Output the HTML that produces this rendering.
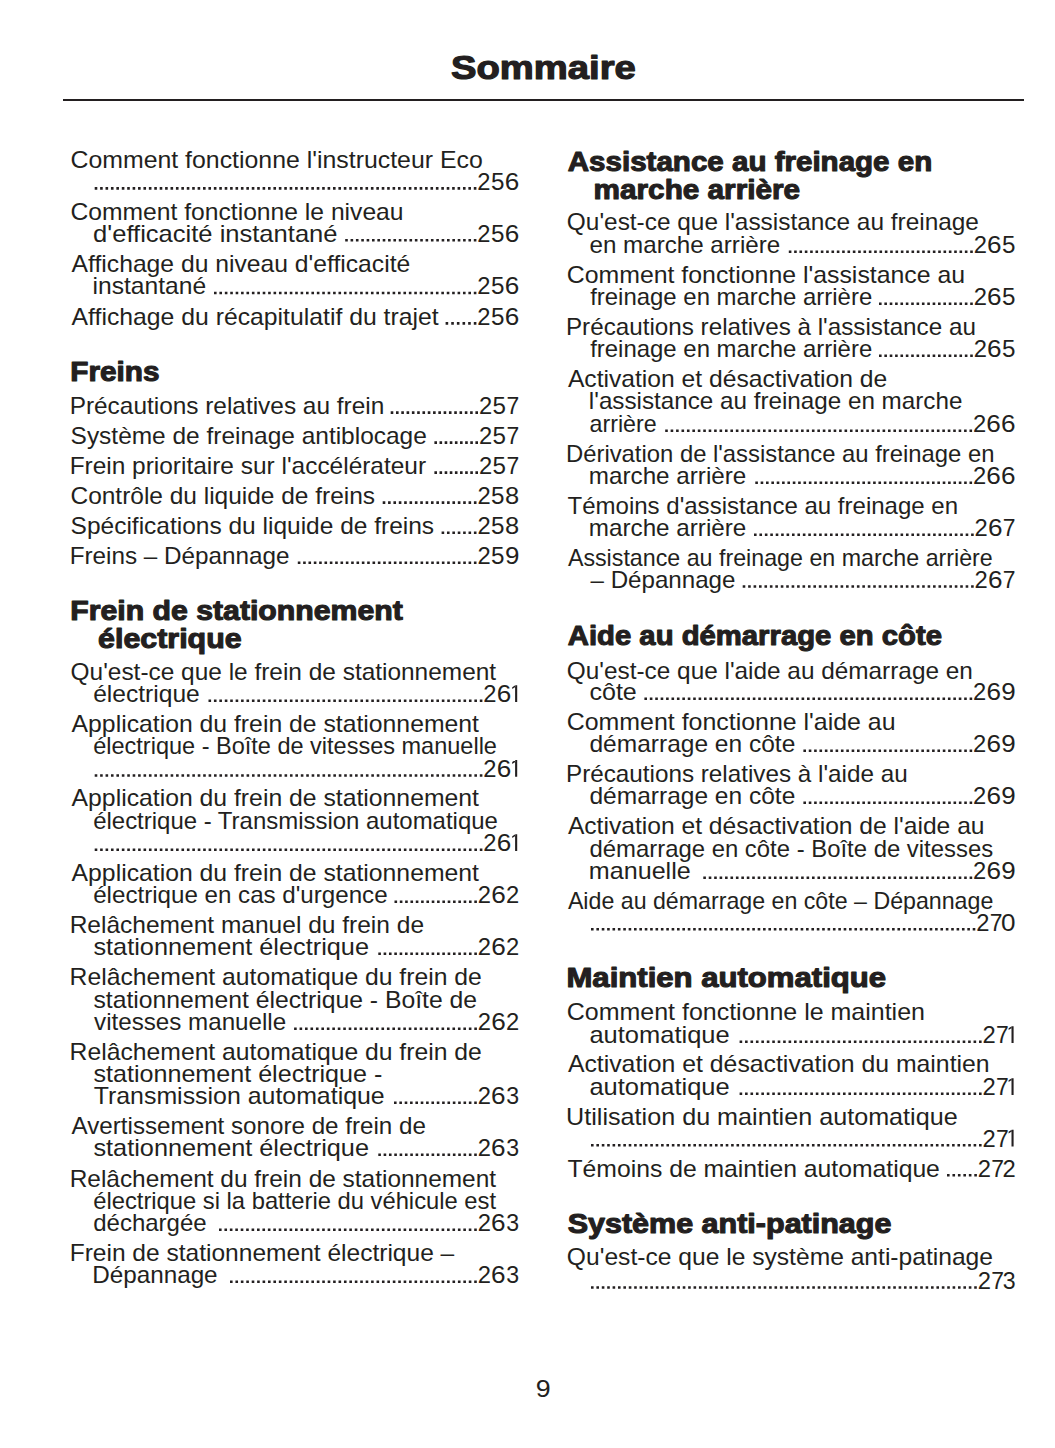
<!DOCTYPE html>
<html><head><meta charset="utf-8"><title>Sommaire</title>
<style>
html,body{margin:0;padding:0;background:#fff;}
body{width:1055px;height:1448px;overflow:hidden;position:relative;}
svg{position:absolute;left:0;top:0;display:block;}
text{font-family:"Liberation Sans",sans-serif;}
</style></head><body>
<svg width="1055" height="1448" viewBox="0 0 1055 1448" fill="#231f20">
<text x="450.99" y="79.00" font-size="34" font-weight="bold" style="stroke:#231f20;stroke-width:1.2px;stroke-linejoin:round" textLength="184.78" lengthAdjust="spacingAndGlyphs" xml:space="preserve">Sommaire</text>
<rect x="63" y="99" width="961" height="2"/>
<g class="r">
<text x="70.46" y="168.00" font-size="24.0" textLength="412.29" lengthAdjust="spacingAndGlyphs" xml:space="preserve">Comment fonctionne l'instructeur Eco</text>
<text x="504.69" y="189.70" font-size="24.0" textLength="14.55" lengthAdjust="spacingAndGlyphs" xml:space="preserve">6</text>
<text x="490.99" y="189.70" font-size="24.0" textLength="13.47" lengthAdjust="spacingAndGlyphs" xml:space="preserve">5</text>
<text x="477.31" y="189.70" font-size="24.0" textLength="13.23" lengthAdjust="spacingAndGlyphs" xml:space="preserve">2</text>
<path d="M94.70 187.10h2.6v2.6h-2.6zM100.12 187.10h2.6v2.6h-2.6zM105.53 187.10h2.6v2.6h-2.6zM110.95 187.10h2.6v2.6h-2.6zM116.36 187.10h2.6v2.6h-2.6zM121.78 187.10h2.6v2.6h-2.6zM127.19 187.10h2.6v2.6h-2.6zM132.61 187.10h2.6v2.6h-2.6zM138.03 187.10h2.6v2.6h-2.6zM143.44 187.10h2.6v2.6h-2.6zM148.86 187.10h2.6v2.6h-2.6zM154.27 187.10h2.6v2.6h-2.6zM159.69 187.10h2.6v2.6h-2.6zM165.10 187.10h2.6v2.6h-2.6zM170.52 187.10h2.6v2.6h-2.6zM175.94 187.10h2.6v2.6h-2.6zM181.35 187.10h2.6v2.6h-2.6zM186.77 187.10h2.6v2.6h-2.6zM192.18 187.10h2.6v2.6h-2.6zM197.60 187.10h2.6v2.6h-2.6zM203.01 187.10h2.6v2.6h-2.6zM208.43 187.10h2.6v2.6h-2.6zM213.85 187.10h2.6v2.6h-2.6zM219.26 187.10h2.6v2.6h-2.6zM224.68 187.10h2.6v2.6h-2.6zM230.09 187.10h2.6v2.6h-2.6zM235.51 187.10h2.6v2.6h-2.6zM240.92 187.10h2.6v2.6h-2.6zM246.34 187.10h2.6v2.6h-2.6zM251.76 187.10h2.6v2.6h-2.6zM257.17 187.10h2.6v2.6h-2.6zM262.59 187.10h2.6v2.6h-2.6zM268.00 187.10h2.6v2.6h-2.6zM273.42 187.10h2.6v2.6h-2.6zM278.83 187.10h2.6v2.6h-2.6zM284.25 187.10h2.6v2.6h-2.6zM289.67 187.10h2.6v2.6h-2.6zM295.08 187.10h2.6v2.6h-2.6zM300.50 187.10h2.6v2.6h-2.6zM305.91 187.10h2.6v2.6h-2.6zM311.33 187.10h2.6v2.6h-2.6zM316.74 187.10h2.6v2.6h-2.6zM322.16 187.10h2.6v2.6h-2.6zM327.58 187.10h2.6v2.6h-2.6zM332.99 187.10h2.6v2.6h-2.6zM338.41 187.10h2.6v2.6h-2.6zM343.82 187.10h2.6v2.6h-2.6zM349.24 187.10h2.6v2.6h-2.6zM354.65 187.10h2.6v2.6h-2.6zM360.07 187.10h2.6v2.6h-2.6zM365.49 187.10h2.6v2.6h-2.6zM370.90 187.10h2.6v2.6h-2.6zM376.32 187.10h2.6v2.6h-2.6zM381.73 187.10h2.6v2.6h-2.6zM387.15 187.10h2.6v2.6h-2.6zM392.56 187.10h2.6v2.6h-2.6zM397.98 187.10h2.6v2.6h-2.6zM403.40 187.10h2.6v2.6h-2.6zM408.81 187.10h2.6v2.6h-2.6zM414.23 187.10h2.6v2.6h-2.6zM419.64 187.10h2.6v2.6h-2.6zM425.06 187.10h2.6v2.6h-2.6zM430.47 187.10h2.6v2.6h-2.6zM435.89 187.10h2.6v2.6h-2.6zM441.31 187.10h2.6v2.6h-2.6zM446.72 187.10h2.6v2.6h-2.6zM452.14 187.10h2.6v2.6h-2.6zM457.55 187.10h2.6v2.6h-2.6zM462.97 187.10h2.6v2.6h-2.6zM468.38 187.10h2.6v2.6h-2.6zM473.80 187.10h2.6v2.6h-2.6z"/>
<text x="70.47" y="219.80" font-size="24.0" textLength="333.08" lengthAdjust="spacingAndGlyphs" xml:space="preserve">Comment fonctionne le niveau</text>
<text x="504.69" y="241.50" font-size="24.0" textLength="14.55" lengthAdjust="spacingAndGlyphs" xml:space="preserve">6</text>
<text x="490.99" y="241.50" font-size="24.0" textLength="13.47" lengthAdjust="spacingAndGlyphs" xml:space="preserve">5</text>
<text x="477.31" y="241.50" font-size="24.0" textLength="13.23" lengthAdjust="spacingAndGlyphs" xml:space="preserve">2</text>
<text x="93.14" y="241.50" font-size="24.0" textLength="244.38" lengthAdjust="spacingAndGlyphs" xml:space="preserve">d'efficacité instantané</text>
<path d="M345.20 238.90h2.6v2.6h-2.6zM350.56 238.90h2.6v2.6h-2.6zM355.92 238.90h2.6v2.6h-2.6zM361.27 238.90h2.6v2.6h-2.6zM366.63 238.90h2.6v2.6h-2.6zM371.99 238.90h2.6v2.6h-2.6zM377.35 238.90h2.6v2.6h-2.6zM382.71 238.90h2.6v2.6h-2.6zM388.07 238.90h2.6v2.6h-2.6zM393.43 238.90h2.6v2.6h-2.6zM398.78 238.90h2.6v2.6h-2.6zM404.14 238.90h2.6v2.6h-2.6zM409.50 238.90h2.6v2.6h-2.6zM414.86 238.90h2.6v2.6h-2.6zM420.22 238.90h2.6v2.6h-2.6zM425.57 238.90h2.6v2.6h-2.6zM430.93 238.90h2.6v2.6h-2.6zM436.29 238.90h2.6v2.6h-2.6zM441.65 238.90h2.6v2.6h-2.6zM447.01 238.90h2.6v2.6h-2.6zM452.37 238.90h2.6v2.6h-2.6zM457.73 238.90h2.6v2.6h-2.6zM463.08 238.90h2.6v2.6h-2.6zM468.44 238.90h2.6v2.6h-2.6zM473.80 238.90h2.6v2.6h-2.6z"/>
<text x="71.60" y="272.00" font-size="24.0" textLength="338.62" lengthAdjust="spacingAndGlyphs" xml:space="preserve">Affichage du niveau d'efficacité</text>
<text x="504.69" y="294.30" font-size="24.0" textLength="14.55" lengthAdjust="spacingAndGlyphs" xml:space="preserve">6</text>
<text x="490.99" y="294.30" font-size="24.0" textLength="13.47" lengthAdjust="spacingAndGlyphs" xml:space="preserve">5</text>
<text x="477.31" y="294.30" font-size="24.0" textLength="13.23" lengthAdjust="spacingAndGlyphs" xml:space="preserve">2</text>
<text x="92.56" y="294.30" font-size="24.0" textLength="113.53" lengthAdjust="spacingAndGlyphs" xml:space="preserve">instantané</text>
<path d="M214.00 291.70h2.6v2.6h-2.6zM219.41 291.70h2.6v2.6h-2.6zM224.83 291.70h2.6v2.6h-2.6zM230.24 291.70h2.6v2.6h-2.6zM235.65 291.70h2.6v2.6h-2.6zM241.06 291.70h2.6v2.6h-2.6zM246.48 291.70h2.6v2.6h-2.6zM251.89 291.70h2.6v2.6h-2.6zM257.30 291.70h2.6v2.6h-2.6zM262.71 291.70h2.6v2.6h-2.6zM268.13 291.70h2.6v2.6h-2.6zM273.54 291.70h2.6v2.6h-2.6zM278.95 291.70h2.6v2.6h-2.6zM284.36 291.70h2.6v2.6h-2.6zM289.78 291.70h2.6v2.6h-2.6zM295.19 291.70h2.6v2.6h-2.6zM300.60 291.70h2.6v2.6h-2.6zM306.01 291.70h2.6v2.6h-2.6zM311.43 291.70h2.6v2.6h-2.6zM316.84 291.70h2.6v2.6h-2.6zM322.25 291.70h2.6v2.6h-2.6zM327.66 291.70h2.6v2.6h-2.6zM333.08 291.70h2.6v2.6h-2.6zM338.49 291.70h2.6v2.6h-2.6zM343.90 291.70h2.6v2.6h-2.6zM349.31 291.70h2.6v2.6h-2.6zM354.73 291.70h2.6v2.6h-2.6zM360.14 291.70h2.6v2.6h-2.6zM365.55 291.70h2.6v2.6h-2.6zM370.96 291.70h2.6v2.6h-2.6zM376.38 291.70h2.6v2.6h-2.6zM381.79 291.70h2.6v2.6h-2.6zM387.20 291.70h2.6v2.6h-2.6zM392.61 291.70h2.6v2.6h-2.6zM398.03 291.70h2.6v2.6h-2.6zM403.44 291.70h2.6v2.6h-2.6zM408.85 291.70h2.6v2.6h-2.6zM414.26 291.70h2.6v2.6h-2.6zM419.68 291.70h2.6v2.6h-2.6zM425.09 291.70h2.6v2.6h-2.6zM430.50 291.70h2.6v2.6h-2.6zM435.91 291.70h2.6v2.6h-2.6zM441.33 291.70h2.6v2.6h-2.6zM446.74 291.70h2.6v2.6h-2.6zM452.15 291.70h2.6v2.6h-2.6zM457.56 291.70h2.6v2.6h-2.6zM462.98 291.70h2.6v2.6h-2.6zM468.39 291.70h2.6v2.6h-2.6zM473.80 291.70h2.6v2.6h-2.6z"/>
<text x="504.69" y="324.70" font-size="24.0" textLength="14.55" lengthAdjust="spacingAndGlyphs" xml:space="preserve">6</text>
<text x="490.99" y="324.70" font-size="24.0" textLength="13.47" lengthAdjust="spacingAndGlyphs" xml:space="preserve">5</text>
<text x="477.31" y="324.70" font-size="24.0" textLength="13.23" lengthAdjust="spacingAndGlyphs" xml:space="preserve">2</text>
<text x="71.60" y="324.70" font-size="24.0" textLength="367.02" lengthAdjust="spacingAndGlyphs" xml:space="preserve">Affichage du récapitulatif du trajet</text>
<path d="M445.60 322.10h2.6v2.6h-2.6zM451.24 322.10h2.6v2.6h-2.6zM456.88 322.10h2.6v2.6h-2.6zM462.52 322.10h2.6v2.6h-2.6zM468.16 322.10h2.6v2.6h-2.6zM473.80 322.10h2.6v2.6h-2.6z"/>
<text x="70.27" y="381.10" font-size="27.6" font-weight="bold" style="stroke:#231f20;stroke-width:1.1px;stroke-linejoin:round" textLength="89.23" lengthAdjust="spacingAndGlyphs" xml:space="preserve">Freins</text>
<text x="506.45" y="413.90" font-size="24.0" textLength="12.74" lengthAdjust="spacingAndGlyphs" xml:space="preserve">7</text>
<text x="492.59" y="413.90" font-size="24.0" textLength="13.47" lengthAdjust="spacingAndGlyphs" xml:space="preserve">5</text>
<text x="478.91" y="413.90" font-size="24.0" textLength="13.23" lengthAdjust="spacingAndGlyphs" xml:space="preserve">2</text>
<text x="69.67" y="413.90" font-size="24.0" textLength="314.57" lengthAdjust="spacingAndGlyphs" xml:space="preserve">Précautions relatives au frein</text>
<path d="M390.70 411.30h2.6v2.6h-2.6zM395.99 411.30h2.6v2.6h-2.6zM401.29 411.30h2.6v2.6h-2.6zM406.58 411.30h2.6v2.6h-2.6zM411.88 411.30h2.6v2.6h-2.6zM417.17 411.30h2.6v2.6h-2.6zM422.46 411.30h2.6v2.6h-2.6zM427.76 411.30h2.6v2.6h-2.6zM433.05 411.30h2.6v2.6h-2.6zM438.34 411.30h2.6v2.6h-2.6zM443.64 411.30h2.6v2.6h-2.6zM448.93 411.30h2.6v2.6h-2.6zM454.23 411.30h2.6v2.6h-2.6zM459.52 411.30h2.6v2.6h-2.6zM464.81 411.30h2.6v2.6h-2.6zM470.11 411.30h2.6v2.6h-2.6zM475.40 411.30h2.6v2.6h-2.6z"/>
<text x="506.45" y="443.90" font-size="24.0" textLength="12.74" lengthAdjust="spacingAndGlyphs" xml:space="preserve">7</text>
<text x="492.59" y="443.90" font-size="24.0" textLength="13.47" lengthAdjust="spacingAndGlyphs" xml:space="preserve">5</text>
<text x="478.91" y="443.90" font-size="24.0" textLength="13.23" lengthAdjust="spacingAndGlyphs" xml:space="preserve">2</text>
<text x="70.58" y="443.90" font-size="24.0" textLength="356.22" lengthAdjust="spacingAndGlyphs" xml:space="preserve">Système de freinage antiblocage</text>
<path d="M434.40 441.30h2.6v2.6h-2.6zM439.52 441.30h2.6v2.6h-2.6zM444.65 441.30h2.6v2.6h-2.6zM449.77 441.30h2.6v2.6h-2.6zM454.90 441.30h2.6v2.6h-2.6zM460.02 441.30h2.6v2.6h-2.6zM465.15 441.30h2.6v2.6h-2.6zM470.27 441.30h2.6v2.6h-2.6zM475.40 441.30h2.6v2.6h-2.6z"/>
<text x="506.45" y="473.90" font-size="24.0" textLength="12.74" lengthAdjust="spacingAndGlyphs" xml:space="preserve">7</text>
<text x="492.59" y="473.90" font-size="24.0" textLength="13.47" lengthAdjust="spacingAndGlyphs" xml:space="preserve">5</text>
<text x="478.91" y="473.90" font-size="24.0" textLength="13.23" lengthAdjust="spacingAndGlyphs" xml:space="preserve">2</text>
<text x="69.66" y="473.90" font-size="24.0" textLength="356.40" lengthAdjust="spacingAndGlyphs" xml:space="preserve">Frein prioritaire sur l'accélérateur</text>
<path d="M434.40 471.30h2.6v2.6h-2.6zM439.52 471.30h2.6v2.6h-2.6zM444.65 471.30h2.6v2.6h-2.6zM449.77 471.30h2.6v2.6h-2.6zM454.90 471.30h2.6v2.6h-2.6zM460.02 471.30h2.6v2.6h-2.6zM465.15 471.30h2.6v2.6h-2.6zM470.27 471.30h2.6v2.6h-2.6zM475.40 471.30h2.6v2.6h-2.6z"/>
<text x="505.04" y="503.90" font-size="24.0" textLength="14.18" lengthAdjust="spacingAndGlyphs" xml:space="preserve">8</text>
<text x="491.09" y="503.90" font-size="24.0" textLength="13.47" lengthAdjust="spacingAndGlyphs" xml:space="preserve">5</text>
<text x="477.41" y="503.90" font-size="24.0" textLength="13.23" lengthAdjust="spacingAndGlyphs" xml:space="preserve">2</text>
<text x="70.48" y="503.90" font-size="24.0" textLength="304.61" lengthAdjust="spacingAndGlyphs" xml:space="preserve">Contrôle du liquide de freins</text>
<path d="M382.70 501.30h2.6v2.6h-2.6zM388.06 501.30h2.6v2.6h-2.6zM393.43 501.30h2.6v2.6h-2.6zM398.79 501.30h2.6v2.6h-2.6zM404.16 501.30h2.6v2.6h-2.6zM409.52 501.30h2.6v2.6h-2.6zM414.89 501.30h2.6v2.6h-2.6zM420.25 501.30h2.6v2.6h-2.6zM425.62 501.30h2.6v2.6h-2.6zM430.98 501.30h2.6v2.6h-2.6zM436.35 501.30h2.6v2.6h-2.6zM441.71 501.30h2.6v2.6h-2.6zM447.08 501.30h2.6v2.6h-2.6zM452.44 501.30h2.6v2.6h-2.6zM457.81 501.30h2.6v2.6h-2.6zM463.17 501.30h2.6v2.6h-2.6zM468.54 501.30h2.6v2.6h-2.6zM473.90 501.30h2.6v2.6h-2.6z"/>
<text x="505.04" y="534.00" font-size="24.0" textLength="14.18" lengthAdjust="spacingAndGlyphs" xml:space="preserve">8</text>
<text x="491.09" y="534.00" font-size="24.0" textLength="13.47" lengthAdjust="spacingAndGlyphs" xml:space="preserve">5</text>
<text x="477.41" y="534.00" font-size="24.0" textLength="13.23" lengthAdjust="spacingAndGlyphs" xml:space="preserve">2</text>
<text x="70.58" y="534.00" font-size="24.0" textLength="363.48" lengthAdjust="spacingAndGlyphs" xml:space="preserve">Spécifications du liquide de freins</text>
<path d="M441.60 531.40h2.6v2.6h-2.6zM446.98 531.40h2.6v2.6h-2.6zM452.37 531.40h2.6v2.6h-2.6zM457.75 531.40h2.6v2.6h-2.6zM463.13 531.40h2.6v2.6h-2.6zM468.52 531.40h2.6v2.6h-2.6zM473.90 531.40h2.6v2.6h-2.6z"/>
<text x="504.91" y="564.00" font-size="24.0" textLength="14.43" lengthAdjust="spacingAndGlyphs" xml:space="preserve">9</text>
<text x="491.09" y="564.00" font-size="24.0" textLength="13.47" lengthAdjust="spacingAndGlyphs" xml:space="preserve">5</text>
<text x="477.41" y="564.00" font-size="24.0" textLength="13.23" lengthAdjust="spacingAndGlyphs" xml:space="preserve">2</text>
<text x="69.68" y="564.00" font-size="24.0" textLength="219.92" lengthAdjust="spacingAndGlyphs" xml:space="preserve">Freins – Dépannage</text>
<path d="M297.80 561.40h2.6v2.6h-2.6zM303.14 561.40h2.6v2.6h-2.6zM308.47 561.40h2.6v2.6h-2.6zM313.81 561.40h2.6v2.6h-2.6zM319.15 561.40h2.6v2.6h-2.6zM324.48 561.40h2.6v2.6h-2.6zM329.82 561.40h2.6v2.6h-2.6zM335.15 561.40h2.6v2.6h-2.6zM340.49 561.40h2.6v2.6h-2.6zM345.83 561.40h2.6v2.6h-2.6zM351.16 561.40h2.6v2.6h-2.6zM356.50 561.40h2.6v2.6h-2.6zM361.84 561.40h2.6v2.6h-2.6zM367.17 561.40h2.6v2.6h-2.6zM372.51 561.40h2.6v2.6h-2.6zM377.85 561.40h2.6v2.6h-2.6zM383.18 561.40h2.6v2.6h-2.6zM388.52 561.40h2.6v2.6h-2.6zM393.85 561.40h2.6v2.6h-2.6zM399.19 561.40h2.6v2.6h-2.6zM404.53 561.40h2.6v2.6h-2.6zM409.86 561.40h2.6v2.6h-2.6zM415.20 561.40h2.6v2.6h-2.6zM420.54 561.40h2.6v2.6h-2.6zM425.87 561.40h2.6v2.6h-2.6zM431.21 561.40h2.6v2.6h-2.6zM436.55 561.40h2.6v2.6h-2.6zM441.88 561.40h2.6v2.6h-2.6zM447.22 561.40h2.6v2.6h-2.6zM452.55 561.40h2.6v2.6h-2.6zM457.89 561.40h2.6v2.6h-2.6zM463.23 561.40h2.6v2.6h-2.6zM468.56 561.40h2.6v2.6h-2.6zM473.90 561.40h2.6v2.6h-2.6z"/>
<text x="70.24" y="620.10" font-size="27.6" font-weight="bold" style="stroke:#231f20;stroke-width:1.1px;stroke-linejoin:round" textLength="332.53" lengthAdjust="spacingAndGlyphs" xml:space="preserve">Frein de stationnement</text>
<text x="98.11" y="647.60" font-size="27.6" font-weight="bold" style="stroke:#231f20;stroke-width:1.1px;stroke-linejoin:round" textLength="143.46" lengthAdjust="spacingAndGlyphs" xml:space="preserve">électrique</text>
<text x="70.58" y="679.70" font-size="24.0" textLength="425.51" lengthAdjust="spacingAndGlyphs" xml:space="preserve">Qu'est-ce que le frein de stationnement</text>
<path d="M515.10 685.20h2.1v16.8h-2.1z M515.30 685.20L512.20 687.20L512.20 689.10L515.30 687.10z"/>
<text x="496.69" y="702.00" font-size="24.0" textLength="14.55" lengthAdjust="spacingAndGlyphs" xml:space="preserve">6</text>
<text x="483.31" y="702.00" font-size="24.0" textLength="13.23" lengthAdjust="spacingAndGlyphs" xml:space="preserve">2</text>
<text x="93.18" y="702.00" font-size="24.0" textLength="106.62" lengthAdjust="spacingAndGlyphs" xml:space="preserve">électrique</text>
<path d="M208.50 699.40h2.6v2.6h-2.6zM213.93 699.40h2.6v2.6h-2.6zM219.35 699.40h2.6v2.6h-2.6zM224.78 699.40h2.6v2.6h-2.6zM230.20 699.40h2.6v2.6h-2.6zM235.63 699.40h2.6v2.6h-2.6zM241.06 699.40h2.6v2.6h-2.6zM246.48 699.40h2.6v2.6h-2.6zM251.91 699.40h2.6v2.6h-2.6zM257.33 699.40h2.6v2.6h-2.6zM262.76 699.40h2.6v2.6h-2.6zM268.19 699.40h2.6v2.6h-2.6zM273.61 699.40h2.6v2.6h-2.6zM279.04 699.40h2.6v2.6h-2.6zM284.46 699.40h2.6v2.6h-2.6zM289.89 699.40h2.6v2.6h-2.6zM295.32 699.40h2.6v2.6h-2.6zM300.74 699.40h2.6v2.6h-2.6zM306.17 699.40h2.6v2.6h-2.6zM311.59 699.40h2.6v2.6h-2.6zM317.02 699.40h2.6v2.6h-2.6zM322.45 699.40h2.6v2.6h-2.6zM327.87 699.40h2.6v2.6h-2.6zM333.30 699.40h2.6v2.6h-2.6zM338.72 699.40h2.6v2.6h-2.6zM344.15 699.40h2.6v2.6h-2.6zM349.58 699.40h2.6v2.6h-2.6zM355.00 699.40h2.6v2.6h-2.6zM360.43 699.40h2.6v2.6h-2.6zM365.85 699.40h2.6v2.6h-2.6zM371.28 699.40h2.6v2.6h-2.6zM376.71 699.40h2.6v2.6h-2.6zM382.13 699.40h2.6v2.6h-2.6zM387.56 699.40h2.6v2.6h-2.6zM392.98 699.40h2.6v2.6h-2.6zM398.41 699.40h2.6v2.6h-2.6zM403.84 699.40h2.6v2.6h-2.6zM409.26 699.40h2.6v2.6h-2.6zM414.69 699.40h2.6v2.6h-2.6zM420.11 699.40h2.6v2.6h-2.6zM425.54 699.40h2.6v2.6h-2.6zM430.97 699.40h2.6v2.6h-2.6zM436.39 699.40h2.6v2.6h-2.6zM441.82 699.40h2.6v2.6h-2.6zM447.24 699.40h2.6v2.6h-2.6zM452.67 699.40h2.6v2.6h-2.6zM458.10 699.40h2.6v2.6h-2.6zM463.52 699.40h2.6v2.6h-2.6zM468.95 699.40h2.6v2.6h-2.6zM474.37 699.40h2.6v2.6h-2.6zM479.80 699.40h2.6v2.6h-2.6z"/>
<text x="71.60" y="731.50" font-size="24.0" textLength="407.35" lengthAdjust="spacingAndGlyphs" xml:space="preserve">Application du frein de stationnement</text>
<text x="93.22" y="754.00" font-size="24.0" textLength="403.70" lengthAdjust="spacingAndGlyphs" xml:space="preserve">électrique - Boîte de vitesses manuelle</text>
<path d="M515.10 760.00h2.1v16.8h-2.1z M515.30 760.00L512.20 762.00L512.20 763.90L515.30 761.90z"/>
<text x="496.69" y="776.80" font-size="24.0" textLength="14.55" lengthAdjust="spacingAndGlyphs" xml:space="preserve">6</text>
<text x="483.31" y="776.80" font-size="24.0" textLength="13.23" lengthAdjust="spacingAndGlyphs" xml:space="preserve">2</text>
<path d="M94.70 774.20h2.6v2.6h-2.6zM100.12 774.20h2.6v2.6h-2.6zM105.55 774.20h2.6v2.6h-2.6zM110.97 774.20h2.6v2.6h-2.6zM116.40 774.20h2.6v2.6h-2.6zM121.82 774.20h2.6v2.6h-2.6zM127.24 774.20h2.6v2.6h-2.6zM132.67 774.20h2.6v2.6h-2.6zM138.09 774.20h2.6v2.6h-2.6zM143.52 774.20h2.6v2.6h-2.6zM148.94 774.20h2.6v2.6h-2.6zM154.36 774.20h2.6v2.6h-2.6zM159.79 774.20h2.6v2.6h-2.6zM165.21 774.20h2.6v2.6h-2.6zM170.64 774.20h2.6v2.6h-2.6zM176.06 774.20h2.6v2.6h-2.6zM181.48 774.20h2.6v2.6h-2.6zM186.91 774.20h2.6v2.6h-2.6zM192.33 774.20h2.6v2.6h-2.6zM197.75 774.20h2.6v2.6h-2.6zM203.18 774.20h2.6v2.6h-2.6zM208.60 774.20h2.6v2.6h-2.6zM214.03 774.20h2.6v2.6h-2.6zM219.45 774.20h2.6v2.6h-2.6zM224.87 774.20h2.6v2.6h-2.6zM230.30 774.20h2.6v2.6h-2.6zM235.72 774.20h2.6v2.6h-2.6zM241.15 774.20h2.6v2.6h-2.6zM246.57 774.20h2.6v2.6h-2.6zM251.99 774.20h2.6v2.6h-2.6zM257.42 774.20h2.6v2.6h-2.6zM262.84 774.20h2.6v2.6h-2.6zM268.27 774.20h2.6v2.6h-2.6zM273.69 774.20h2.6v2.6h-2.6zM279.11 774.20h2.6v2.6h-2.6zM284.54 774.20h2.6v2.6h-2.6zM289.96 774.20h2.6v2.6h-2.6zM295.39 774.20h2.6v2.6h-2.6zM300.81 774.20h2.6v2.6h-2.6zM306.23 774.20h2.6v2.6h-2.6zM311.66 774.20h2.6v2.6h-2.6zM317.08 774.20h2.6v2.6h-2.6zM322.51 774.20h2.6v2.6h-2.6zM327.93 774.20h2.6v2.6h-2.6zM333.35 774.20h2.6v2.6h-2.6zM338.78 774.20h2.6v2.6h-2.6zM344.20 774.20h2.6v2.6h-2.6zM349.63 774.20h2.6v2.6h-2.6zM355.05 774.20h2.6v2.6h-2.6zM360.47 774.20h2.6v2.6h-2.6zM365.90 774.20h2.6v2.6h-2.6zM371.32 774.20h2.6v2.6h-2.6zM376.75 774.20h2.6v2.6h-2.6zM382.17 774.20h2.6v2.6h-2.6zM387.59 774.20h2.6v2.6h-2.6zM393.02 774.20h2.6v2.6h-2.6zM398.44 774.20h2.6v2.6h-2.6zM403.86 774.20h2.6v2.6h-2.6zM409.29 774.20h2.6v2.6h-2.6zM414.71 774.20h2.6v2.6h-2.6zM420.14 774.20h2.6v2.6h-2.6zM425.56 774.20h2.6v2.6h-2.6zM430.98 774.20h2.6v2.6h-2.6zM436.41 774.20h2.6v2.6h-2.6zM441.83 774.20h2.6v2.6h-2.6zM447.26 774.20h2.6v2.6h-2.6zM452.68 774.20h2.6v2.6h-2.6zM458.10 774.20h2.6v2.6h-2.6zM463.53 774.20h2.6v2.6h-2.6zM468.95 774.20h2.6v2.6h-2.6zM474.38 774.20h2.6v2.6h-2.6zM479.80 774.20h2.6v2.6h-2.6z"/>
<text x="71.60" y="806.00" font-size="24.0" textLength="407.35" lengthAdjust="spacingAndGlyphs" xml:space="preserve">Application du frein de stationnement</text>
<text x="93.20" y="829.00" font-size="24.0" textLength="404.65" lengthAdjust="spacingAndGlyphs" xml:space="preserve">électrique - Transmission automatique</text>
<path d="M515.10 834.20h2.1v16.8h-2.1z M515.30 834.20L512.20 836.20L512.20 838.10L515.30 836.10z"/>
<text x="496.69" y="851.00" font-size="24.0" textLength="14.55" lengthAdjust="spacingAndGlyphs" xml:space="preserve">6</text>
<text x="483.31" y="851.00" font-size="24.0" textLength="13.23" lengthAdjust="spacingAndGlyphs" xml:space="preserve">2</text>
<path d="M94.70 848.40h2.6v2.6h-2.6zM100.12 848.40h2.6v2.6h-2.6zM105.55 848.40h2.6v2.6h-2.6zM110.97 848.40h2.6v2.6h-2.6zM116.40 848.40h2.6v2.6h-2.6zM121.82 848.40h2.6v2.6h-2.6zM127.24 848.40h2.6v2.6h-2.6zM132.67 848.40h2.6v2.6h-2.6zM138.09 848.40h2.6v2.6h-2.6zM143.52 848.40h2.6v2.6h-2.6zM148.94 848.40h2.6v2.6h-2.6zM154.36 848.40h2.6v2.6h-2.6zM159.79 848.40h2.6v2.6h-2.6zM165.21 848.40h2.6v2.6h-2.6zM170.64 848.40h2.6v2.6h-2.6zM176.06 848.40h2.6v2.6h-2.6zM181.48 848.40h2.6v2.6h-2.6zM186.91 848.40h2.6v2.6h-2.6zM192.33 848.40h2.6v2.6h-2.6zM197.75 848.40h2.6v2.6h-2.6zM203.18 848.40h2.6v2.6h-2.6zM208.60 848.40h2.6v2.6h-2.6zM214.03 848.40h2.6v2.6h-2.6zM219.45 848.40h2.6v2.6h-2.6zM224.87 848.40h2.6v2.6h-2.6zM230.30 848.40h2.6v2.6h-2.6zM235.72 848.40h2.6v2.6h-2.6zM241.15 848.40h2.6v2.6h-2.6zM246.57 848.40h2.6v2.6h-2.6zM251.99 848.40h2.6v2.6h-2.6zM257.42 848.40h2.6v2.6h-2.6zM262.84 848.40h2.6v2.6h-2.6zM268.27 848.40h2.6v2.6h-2.6zM273.69 848.40h2.6v2.6h-2.6zM279.11 848.40h2.6v2.6h-2.6zM284.54 848.40h2.6v2.6h-2.6zM289.96 848.40h2.6v2.6h-2.6zM295.39 848.40h2.6v2.6h-2.6zM300.81 848.40h2.6v2.6h-2.6zM306.23 848.40h2.6v2.6h-2.6zM311.66 848.40h2.6v2.6h-2.6zM317.08 848.40h2.6v2.6h-2.6zM322.51 848.40h2.6v2.6h-2.6zM327.93 848.40h2.6v2.6h-2.6zM333.35 848.40h2.6v2.6h-2.6zM338.78 848.40h2.6v2.6h-2.6zM344.20 848.40h2.6v2.6h-2.6zM349.63 848.40h2.6v2.6h-2.6zM355.05 848.40h2.6v2.6h-2.6zM360.47 848.40h2.6v2.6h-2.6zM365.90 848.40h2.6v2.6h-2.6zM371.32 848.40h2.6v2.6h-2.6zM376.75 848.40h2.6v2.6h-2.6zM382.17 848.40h2.6v2.6h-2.6zM387.59 848.40h2.6v2.6h-2.6zM393.02 848.40h2.6v2.6h-2.6zM398.44 848.40h2.6v2.6h-2.6zM403.86 848.40h2.6v2.6h-2.6zM409.29 848.40h2.6v2.6h-2.6zM414.71 848.40h2.6v2.6h-2.6zM420.14 848.40h2.6v2.6h-2.6zM425.56 848.40h2.6v2.6h-2.6zM430.98 848.40h2.6v2.6h-2.6zM436.41 848.40h2.6v2.6h-2.6zM441.83 848.40h2.6v2.6h-2.6zM447.26 848.40h2.6v2.6h-2.6zM452.68 848.40h2.6v2.6h-2.6zM458.10 848.40h2.6v2.6h-2.6zM463.53 848.40h2.6v2.6h-2.6zM468.95 848.40h2.6v2.6h-2.6zM474.38 848.40h2.6v2.6h-2.6zM479.80 848.40h2.6v2.6h-2.6z"/>
<text x="71.60" y="881.00" font-size="24.0" textLength="407.35" lengthAdjust="spacingAndGlyphs" xml:space="preserve">Application du frein de stationnement</text>
<text x="506.01" y="903.00" font-size="24.0" textLength="13.23" lengthAdjust="spacingAndGlyphs" xml:space="preserve">2</text>
<text x="491.19" y="903.00" font-size="24.0" textLength="14.55" lengthAdjust="spacingAndGlyphs" xml:space="preserve">6</text>
<text x="477.81" y="903.00" font-size="24.0" textLength="13.23" lengthAdjust="spacingAndGlyphs" xml:space="preserve">2</text>
<text x="93.19" y="903.00" font-size="24.0" textLength="294.40" lengthAdjust="spacingAndGlyphs" xml:space="preserve">électrique en cas d'urgence</text>
<path d="M394.50 900.40h2.6v2.6h-2.6zM399.82 900.40h2.6v2.6h-2.6zM405.14 900.40h2.6v2.6h-2.6zM410.46 900.40h2.6v2.6h-2.6zM415.78 900.40h2.6v2.6h-2.6zM421.10 900.40h2.6v2.6h-2.6zM426.42 900.40h2.6v2.6h-2.6zM431.74 900.40h2.6v2.6h-2.6zM437.06 900.40h2.6v2.6h-2.6zM442.38 900.40h2.6v2.6h-2.6zM447.70 900.40h2.6v2.6h-2.6zM453.02 900.40h2.6v2.6h-2.6zM458.34 900.40h2.6v2.6h-2.6zM463.66 900.40h2.6v2.6h-2.6zM468.98 900.40h2.6v2.6h-2.6zM474.30 900.40h2.6v2.6h-2.6z"/>
<text x="69.66" y="933.00" font-size="24.0" textLength="354.36" lengthAdjust="spacingAndGlyphs" xml:space="preserve">Relâchement manuel du frein de</text>
<text x="506.01" y="955.00" font-size="24.0" textLength="13.23" lengthAdjust="spacingAndGlyphs" xml:space="preserve">2</text>
<text x="491.19" y="955.00" font-size="24.0" textLength="14.55" lengthAdjust="spacingAndGlyphs" xml:space="preserve">6</text>
<text x="477.81" y="955.00" font-size="24.0" textLength="13.23" lengthAdjust="spacingAndGlyphs" xml:space="preserve">2</text>
<text x="93.46" y="955.00" font-size="24.0" textLength="275.50" lengthAdjust="spacingAndGlyphs" xml:space="preserve">stationnement électrique</text>
<path d="M378.30 952.40h2.6v2.6h-2.6zM383.63 952.40h2.6v2.6h-2.6zM388.97 952.40h2.6v2.6h-2.6zM394.30 952.40h2.6v2.6h-2.6zM399.63 952.40h2.6v2.6h-2.6zM404.97 952.40h2.6v2.6h-2.6zM410.30 952.40h2.6v2.6h-2.6zM415.63 952.40h2.6v2.6h-2.6zM420.97 952.40h2.6v2.6h-2.6zM426.30 952.40h2.6v2.6h-2.6zM431.63 952.40h2.6v2.6h-2.6zM436.97 952.40h2.6v2.6h-2.6zM442.30 952.40h2.6v2.6h-2.6zM447.63 952.40h2.6v2.6h-2.6zM452.97 952.40h2.6v2.6h-2.6zM458.30 952.40h2.6v2.6h-2.6zM463.63 952.40h2.6v2.6h-2.6zM468.97 952.40h2.6v2.6h-2.6zM474.30 952.40h2.6v2.6h-2.6z"/>
<text x="69.64" y="985.00" font-size="24.0" textLength="412.17" lengthAdjust="spacingAndGlyphs" xml:space="preserve">Relâchement automatique du frein de</text>
<text x="93.48" y="1008.00" font-size="24.0" textLength="383.60" lengthAdjust="spacingAndGlyphs" xml:space="preserve">stationnement électrique - Boîte de</text>
<text x="506.01" y="1030.00" font-size="24.0" textLength="13.23" lengthAdjust="spacingAndGlyphs" xml:space="preserve">2</text>
<text x="491.19" y="1030.00" font-size="24.0" textLength="14.55" lengthAdjust="spacingAndGlyphs" xml:space="preserve">6</text>
<text x="477.81" y="1030.00" font-size="24.0" textLength="13.23" lengthAdjust="spacingAndGlyphs" xml:space="preserve">2</text>
<text x="94.10" y="1030.00" font-size="24.0" textLength="192.08" lengthAdjust="spacingAndGlyphs" xml:space="preserve">vitesses manuelle</text>
<path d="M294.10 1027.40h2.6v2.6h-2.6zM299.56 1027.40h2.6v2.6h-2.6zM305.02 1027.40h2.6v2.6h-2.6zM310.48 1027.40h2.6v2.6h-2.6zM315.94 1027.40h2.6v2.6h-2.6zM321.40 1027.40h2.6v2.6h-2.6zM326.86 1027.40h2.6v2.6h-2.6zM332.32 1027.40h2.6v2.6h-2.6zM337.78 1027.40h2.6v2.6h-2.6zM343.25 1027.40h2.6v2.6h-2.6zM348.71 1027.40h2.6v2.6h-2.6zM354.17 1027.40h2.6v2.6h-2.6zM359.63 1027.40h2.6v2.6h-2.6zM365.09 1027.40h2.6v2.6h-2.6zM370.55 1027.40h2.6v2.6h-2.6zM376.01 1027.40h2.6v2.6h-2.6zM381.47 1027.40h2.6v2.6h-2.6zM386.93 1027.40h2.6v2.6h-2.6zM392.39 1027.40h2.6v2.6h-2.6zM397.85 1027.40h2.6v2.6h-2.6zM403.31 1027.40h2.6v2.6h-2.6zM408.77 1027.40h2.6v2.6h-2.6zM414.23 1027.40h2.6v2.6h-2.6zM419.69 1027.40h2.6v2.6h-2.6zM425.15 1027.40h2.6v2.6h-2.6zM430.62 1027.40h2.6v2.6h-2.6zM436.08 1027.40h2.6v2.6h-2.6zM441.54 1027.40h2.6v2.6h-2.6zM447.00 1027.40h2.6v2.6h-2.6zM452.46 1027.40h2.6v2.6h-2.6zM457.92 1027.40h2.6v2.6h-2.6zM463.38 1027.40h2.6v2.6h-2.6zM468.84 1027.40h2.6v2.6h-2.6zM474.30 1027.40h2.6v2.6h-2.6z"/>
<text x="69.64" y="1060.00" font-size="24.0" textLength="412.17" lengthAdjust="spacingAndGlyphs" xml:space="preserve">Relâchement automatique du frein de</text>
<text x="93.47" y="1082.00" font-size="24.0" textLength="288.85" lengthAdjust="spacingAndGlyphs" xml:space="preserve">stationnement électrique -</text>
<text x="506.23" y="1104.00" font-size="24.0" textLength="12.88" lengthAdjust="spacingAndGlyphs" xml:space="preserve">3</text>
<text x="491.09" y="1104.00" font-size="24.0" textLength="14.55" lengthAdjust="spacingAndGlyphs" xml:space="preserve">6</text>
<text x="477.71" y="1104.00" font-size="24.0" textLength="13.23" lengthAdjust="spacingAndGlyphs" xml:space="preserve">2</text>
<text x="93.68" y="1104.00" font-size="24.0" textLength="291.04" lengthAdjust="spacingAndGlyphs" xml:space="preserve">Transmission automatique</text>
<path d="M394.00 1101.40h2.6v2.6h-2.6zM399.35 1101.40h2.6v2.6h-2.6zM404.69 1101.40h2.6v2.6h-2.6zM410.04 1101.40h2.6v2.6h-2.6zM415.39 1101.40h2.6v2.6h-2.6zM420.73 1101.40h2.6v2.6h-2.6zM426.08 1101.40h2.6v2.6h-2.6zM431.43 1101.40h2.6v2.6h-2.6zM436.77 1101.40h2.6v2.6h-2.6zM442.12 1101.40h2.6v2.6h-2.6zM447.47 1101.40h2.6v2.6h-2.6zM452.81 1101.40h2.6v2.6h-2.6zM458.16 1101.40h2.6v2.6h-2.6zM463.51 1101.40h2.6v2.6h-2.6zM468.85 1101.40h2.6v2.6h-2.6zM474.20 1101.40h2.6v2.6h-2.6z"/>
<text x="71.60" y="1134.00" font-size="24.0" textLength="354.28" lengthAdjust="spacingAndGlyphs" xml:space="preserve">Avertissement sonore de frein de</text>
<text x="506.23" y="1156.00" font-size="24.0" textLength="12.88" lengthAdjust="spacingAndGlyphs" xml:space="preserve">3</text>
<text x="491.09" y="1156.00" font-size="24.0" textLength="14.55" lengthAdjust="spacingAndGlyphs" xml:space="preserve">6</text>
<text x="477.71" y="1156.00" font-size="24.0" textLength="13.23" lengthAdjust="spacingAndGlyphs" xml:space="preserve">2</text>
<text x="93.46" y="1156.00" font-size="24.0" textLength="275.50" lengthAdjust="spacingAndGlyphs" xml:space="preserve">stationnement électrique</text>
<path d="M378.30 1153.40h2.6v2.6h-2.6zM383.63 1153.40h2.6v2.6h-2.6zM388.96 1153.40h2.6v2.6h-2.6zM394.28 1153.40h2.6v2.6h-2.6zM399.61 1153.40h2.6v2.6h-2.6zM404.94 1153.40h2.6v2.6h-2.6zM410.27 1153.40h2.6v2.6h-2.6zM415.59 1153.40h2.6v2.6h-2.6zM420.92 1153.40h2.6v2.6h-2.6zM426.25 1153.40h2.6v2.6h-2.6zM431.58 1153.40h2.6v2.6h-2.6zM436.91 1153.40h2.6v2.6h-2.6zM442.23 1153.40h2.6v2.6h-2.6zM447.56 1153.40h2.6v2.6h-2.6zM452.89 1153.40h2.6v2.6h-2.6zM458.22 1153.40h2.6v2.6h-2.6zM463.54 1153.40h2.6v2.6h-2.6zM468.87 1153.40h2.6v2.6h-2.6zM474.20 1153.40h2.6v2.6h-2.6z"/>
<text x="69.66" y="1187.00" font-size="24.0" textLength="426.38" lengthAdjust="spacingAndGlyphs" xml:space="preserve">Relâchement du frein de stationnement</text>
<text x="93.21" y="1209.00" font-size="24.0" textLength="402.81" lengthAdjust="spacingAndGlyphs" xml:space="preserve">électrique si la batterie du véhicule est</text>
<text x="506.23" y="1231.00" font-size="24.0" textLength="12.88" lengthAdjust="spacingAndGlyphs" xml:space="preserve">3</text>
<text x="491.09" y="1231.00" font-size="24.0" textLength="14.55" lengthAdjust="spacingAndGlyphs" xml:space="preserve">6</text>
<text x="477.71" y="1231.00" font-size="24.0" textLength="13.23" lengthAdjust="spacingAndGlyphs" xml:space="preserve">2</text>
<text x="93.20" y="1231.00" font-size="24.0" textLength="113.43" lengthAdjust="spacingAndGlyphs" xml:space="preserve">déchargée</text>
<path d="M219.00 1228.40h2.6v2.6h-2.6zM224.43 1228.40h2.6v2.6h-2.6zM229.86 1228.40h2.6v2.6h-2.6zM235.29 1228.40h2.6v2.6h-2.6zM240.72 1228.40h2.6v2.6h-2.6zM246.15 1228.40h2.6v2.6h-2.6zM251.58 1228.40h2.6v2.6h-2.6zM257.01 1228.40h2.6v2.6h-2.6zM262.44 1228.40h2.6v2.6h-2.6zM267.87 1228.40h2.6v2.6h-2.6zM273.30 1228.40h2.6v2.6h-2.6zM278.73 1228.40h2.6v2.6h-2.6zM284.16 1228.40h2.6v2.6h-2.6zM289.59 1228.40h2.6v2.6h-2.6zM295.02 1228.40h2.6v2.6h-2.6zM300.45 1228.40h2.6v2.6h-2.6zM305.88 1228.40h2.6v2.6h-2.6zM311.31 1228.40h2.6v2.6h-2.6zM316.74 1228.40h2.6v2.6h-2.6zM322.17 1228.40h2.6v2.6h-2.6zM327.60 1228.40h2.6v2.6h-2.6zM333.03 1228.40h2.6v2.6h-2.6zM338.46 1228.40h2.6v2.6h-2.6zM343.89 1228.40h2.6v2.6h-2.6zM349.31 1228.40h2.6v2.6h-2.6zM354.74 1228.40h2.6v2.6h-2.6zM360.17 1228.40h2.6v2.6h-2.6zM365.60 1228.40h2.6v2.6h-2.6zM371.03 1228.40h2.6v2.6h-2.6zM376.46 1228.40h2.6v2.6h-2.6zM381.89 1228.40h2.6v2.6h-2.6zM387.32 1228.40h2.6v2.6h-2.6zM392.75 1228.40h2.6v2.6h-2.6zM398.18 1228.40h2.6v2.6h-2.6zM403.61 1228.40h2.6v2.6h-2.6zM409.04 1228.40h2.6v2.6h-2.6zM414.47 1228.40h2.6v2.6h-2.6zM419.90 1228.40h2.6v2.6h-2.6zM425.33 1228.40h2.6v2.6h-2.6zM430.76 1228.40h2.6v2.6h-2.6zM436.19 1228.40h2.6v2.6h-2.6zM441.62 1228.40h2.6v2.6h-2.6zM447.05 1228.40h2.6v2.6h-2.6zM452.48 1228.40h2.6v2.6h-2.6zM457.91 1228.40h2.6v2.6h-2.6zM463.34 1228.40h2.6v2.6h-2.6zM468.77 1228.40h2.6v2.6h-2.6zM474.20 1228.40h2.6v2.6h-2.6z"/>
<text x="69.66" y="1261.00" font-size="24.0" textLength="384.59" lengthAdjust="spacingAndGlyphs" xml:space="preserve">Frein de stationnement électrique –</text>
<text x="506.23" y="1283.00" font-size="24.0" textLength="12.88" lengthAdjust="spacingAndGlyphs" xml:space="preserve">3</text>
<text x="491.09" y="1283.00" font-size="24.0" textLength="14.55" lengthAdjust="spacingAndGlyphs" xml:space="preserve">6</text>
<text x="477.71" y="1283.00" font-size="24.0" textLength="13.23" lengthAdjust="spacingAndGlyphs" xml:space="preserve">2</text>
<text x="92.18" y="1283.00" font-size="24.0" textLength="125.45" lengthAdjust="spacingAndGlyphs" xml:space="preserve">Dépannage</text>
<path d="M230.00 1280.40h2.6v2.6h-2.6zM235.43 1280.40h2.6v2.6h-2.6zM240.85 1280.40h2.6v2.6h-2.6zM246.28 1280.40h2.6v2.6h-2.6zM251.71 1280.40h2.6v2.6h-2.6zM257.13 1280.40h2.6v2.6h-2.6zM262.56 1280.40h2.6v2.6h-2.6zM267.99 1280.40h2.6v2.6h-2.6zM273.41 1280.40h2.6v2.6h-2.6zM278.84 1280.40h2.6v2.6h-2.6zM284.27 1280.40h2.6v2.6h-2.6zM289.69 1280.40h2.6v2.6h-2.6zM295.12 1280.40h2.6v2.6h-2.6zM300.55 1280.40h2.6v2.6h-2.6zM305.97 1280.40h2.6v2.6h-2.6zM311.40 1280.40h2.6v2.6h-2.6zM316.83 1280.40h2.6v2.6h-2.6zM322.25 1280.40h2.6v2.6h-2.6zM327.68 1280.40h2.6v2.6h-2.6zM333.11 1280.40h2.6v2.6h-2.6zM338.53 1280.40h2.6v2.6h-2.6zM343.96 1280.40h2.6v2.6h-2.6zM349.39 1280.40h2.6v2.6h-2.6zM354.81 1280.40h2.6v2.6h-2.6zM360.24 1280.40h2.6v2.6h-2.6zM365.67 1280.40h2.6v2.6h-2.6zM371.09 1280.40h2.6v2.6h-2.6zM376.52 1280.40h2.6v2.6h-2.6zM381.95 1280.40h2.6v2.6h-2.6zM387.37 1280.40h2.6v2.6h-2.6zM392.80 1280.40h2.6v2.6h-2.6zM398.23 1280.40h2.6v2.6h-2.6zM403.65 1280.40h2.6v2.6h-2.6zM409.08 1280.40h2.6v2.6h-2.6zM414.51 1280.40h2.6v2.6h-2.6zM419.93 1280.40h2.6v2.6h-2.6zM425.36 1280.40h2.6v2.6h-2.6zM430.79 1280.40h2.6v2.6h-2.6zM436.21 1280.40h2.6v2.6h-2.6zM441.64 1280.40h2.6v2.6h-2.6zM447.07 1280.40h2.6v2.6h-2.6zM452.49 1280.40h2.6v2.6h-2.6zM457.92 1280.40h2.6v2.6h-2.6zM463.35 1280.40h2.6v2.6h-2.6zM468.77 1280.40h2.6v2.6h-2.6zM474.20 1280.40h2.6v2.6h-2.6z"/>
<text x="567.81" y="171.00" font-size="27.6" font-weight="bold" style="stroke:#231f20;stroke-width:1.1px;stroke-linejoin:round" textLength="364.41" lengthAdjust="spacingAndGlyphs" xml:space="preserve">Assistance au freinage en</text>
<text x="593.57" y="198.70" font-size="27.6" font-weight="bold" style="stroke:#231f20;stroke-width:1.1px;stroke-linejoin:round" textLength="206.59" lengthAdjust="spacingAndGlyphs" xml:space="preserve">marche arrière</text>
<text x="566.88" y="230.10" font-size="24.0" textLength="412.06" lengthAdjust="spacingAndGlyphs" xml:space="preserve">Qu'est-ce que l'assistance au freinage</text>
<text x="1002.09" y="253.00" font-size="24.0" textLength="13.47" lengthAdjust="spacingAndGlyphs" xml:space="preserve">5</text>
<text x="987.09" y="253.00" font-size="24.0" textLength="14.55" lengthAdjust="spacingAndGlyphs" xml:space="preserve">6</text>
<text x="973.71" y="253.00" font-size="24.0" textLength="13.23" lengthAdjust="spacingAndGlyphs" xml:space="preserve">2</text>
<text x="589.49" y="253.00" font-size="24.0" textLength="190.73" lengthAdjust="spacingAndGlyphs" xml:space="preserve">en marche arrière</text>
<path d="M788.80 250.40h2.6v2.6h-2.6zM794.14 250.40h2.6v2.6h-2.6zM799.47 250.40h2.6v2.6h-2.6zM804.81 250.40h2.6v2.6h-2.6zM810.14 250.40h2.6v2.6h-2.6zM815.48 250.40h2.6v2.6h-2.6zM820.81 250.40h2.6v2.6h-2.6zM826.15 250.40h2.6v2.6h-2.6zM831.48 250.40h2.6v2.6h-2.6zM836.82 250.40h2.6v2.6h-2.6zM842.15 250.40h2.6v2.6h-2.6zM847.49 250.40h2.6v2.6h-2.6zM852.82 250.40h2.6v2.6h-2.6zM858.16 250.40h2.6v2.6h-2.6zM863.49 250.40h2.6v2.6h-2.6zM868.83 250.40h2.6v2.6h-2.6zM874.16 250.40h2.6v2.6h-2.6zM879.50 250.40h2.6v2.6h-2.6zM884.84 250.40h2.6v2.6h-2.6zM890.17 250.40h2.6v2.6h-2.6zM895.51 250.40h2.6v2.6h-2.6zM900.84 250.40h2.6v2.6h-2.6zM906.18 250.40h2.6v2.6h-2.6zM911.51 250.40h2.6v2.6h-2.6zM916.85 250.40h2.6v2.6h-2.6zM922.18 250.40h2.6v2.6h-2.6zM927.52 250.40h2.6v2.6h-2.6zM932.85 250.40h2.6v2.6h-2.6zM938.19 250.40h2.6v2.6h-2.6zM943.52 250.40h2.6v2.6h-2.6zM948.86 250.40h2.6v2.6h-2.6zM954.19 250.40h2.6v2.6h-2.6zM959.53 250.40h2.6v2.6h-2.6zM964.86 250.40h2.6v2.6h-2.6zM970.20 250.40h2.6v2.6h-2.6z"/>
<text x="566.76" y="283.00" font-size="24.0" textLength="398.40" lengthAdjust="spacingAndGlyphs" xml:space="preserve">Comment fonctionne l'assistance au</text>
<text x="1002.09" y="305.00" font-size="24.0" textLength="13.47" lengthAdjust="spacingAndGlyphs" xml:space="preserve">5</text>
<text x="987.09" y="305.00" font-size="24.0" textLength="14.55" lengthAdjust="spacingAndGlyphs" xml:space="preserve">6</text>
<text x="973.71" y="305.00" font-size="24.0" textLength="13.23" lengthAdjust="spacingAndGlyphs" xml:space="preserve">2</text>
<text x="590.20" y="305.00" font-size="24.0" textLength="282.02" lengthAdjust="spacingAndGlyphs" xml:space="preserve">freinage en marche arrière</text>
<path d="M879.00 302.40h2.6v2.6h-2.6zM884.36 302.40h2.6v2.6h-2.6zM889.73 302.40h2.6v2.6h-2.6zM895.09 302.40h2.6v2.6h-2.6zM900.46 302.40h2.6v2.6h-2.6zM905.82 302.40h2.6v2.6h-2.6zM911.19 302.40h2.6v2.6h-2.6zM916.55 302.40h2.6v2.6h-2.6zM921.92 302.40h2.6v2.6h-2.6zM927.28 302.40h2.6v2.6h-2.6zM932.65 302.40h2.6v2.6h-2.6zM938.01 302.40h2.6v2.6h-2.6zM943.38 302.40h2.6v2.6h-2.6zM948.74 302.40h2.6v2.6h-2.6zM954.11 302.40h2.6v2.6h-2.6zM959.47 302.40h2.6v2.6h-2.6zM964.84 302.40h2.6v2.6h-2.6zM970.20 302.40h2.6v2.6h-2.6z"/>
<text x="565.98" y="334.70" font-size="24.0" textLength="409.88" lengthAdjust="spacingAndGlyphs" xml:space="preserve">Précautions relatives à l'assistance au</text>
<text x="1002.09" y="357.00" font-size="24.0" textLength="13.47" lengthAdjust="spacingAndGlyphs" xml:space="preserve">5</text>
<text x="987.09" y="357.00" font-size="24.0" textLength="14.55" lengthAdjust="spacingAndGlyphs" xml:space="preserve">6</text>
<text x="973.71" y="357.00" font-size="24.0" textLength="13.23" lengthAdjust="spacingAndGlyphs" xml:space="preserve">2</text>
<text x="590.20" y="357.00" font-size="24.0" textLength="282.02" lengthAdjust="spacingAndGlyphs" xml:space="preserve">freinage en marche arrière</text>
<path d="M879.00 354.40h2.6v2.6h-2.6zM884.36 354.40h2.6v2.6h-2.6zM889.73 354.40h2.6v2.6h-2.6zM895.09 354.40h2.6v2.6h-2.6zM900.46 354.40h2.6v2.6h-2.6zM905.82 354.40h2.6v2.6h-2.6zM911.19 354.40h2.6v2.6h-2.6zM916.55 354.40h2.6v2.6h-2.6zM921.92 354.40h2.6v2.6h-2.6zM927.28 354.40h2.6v2.6h-2.6zM932.65 354.40h2.6v2.6h-2.6zM938.01 354.40h2.6v2.6h-2.6zM943.38 354.40h2.6v2.6h-2.6zM948.74 354.40h2.6v2.6h-2.6zM954.11 354.40h2.6v2.6h-2.6zM959.47 354.40h2.6v2.6h-2.6zM964.84 354.40h2.6v2.6h-2.6zM970.20 354.40h2.6v2.6h-2.6z"/>
<text x="567.90" y="386.50" font-size="24.0" textLength="319.30" lengthAdjust="spacingAndGlyphs" xml:space="preserve">Activation et désactivation de</text>
<text x="588.89" y="409.00" font-size="24.0" textLength="373.47" lengthAdjust="spacingAndGlyphs" xml:space="preserve">l'assistance au freinage en marche</text>
<text x="1001.09" y="432.00" font-size="24.0" textLength="14.55" lengthAdjust="spacingAndGlyphs" xml:space="preserve">6</text>
<text x="986.39" y="432.00" font-size="24.0" textLength="14.55" lengthAdjust="spacingAndGlyphs" xml:space="preserve">6</text>
<text x="973.01" y="432.00" font-size="24.0" textLength="13.23" lengthAdjust="spacingAndGlyphs" xml:space="preserve">2</text>
<text x="589.53" y="432.00" font-size="24.0" textLength="67.19" lengthAdjust="spacingAndGlyphs" xml:space="preserve">arrière</text>
<path d="M665.20 429.40h2.6v2.6h-2.6zM670.63 429.40h2.6v2.6h-2.6zM676.07 429.40h2.6v2.6h-2.6zM681.50 429.40h2.6v2.6h-2.6zM686.94 429.40h2.6v2.6h-2.6zM692.37 429.40h2.6v2.6h-2.6zM697.80 429.40h2.6v2.6h-2.6zM703.24 429.40h2.6v2.6h-2.6zM708.67 429.40h2.6v2.6h-2.6zM714.11 429.40h2.6v2.6h-2.6zM719.54 429.40h2.6v2.6h-2.6zM724.97 429.40h2.6v2.6h-2.6zM730.41 429.40h2.6v2.6h-2.6zM735.84 429.40h2.6v2.6h-2.6zM741.27 429.40h2.6v2.6h-2.6zM746.71 429.40h2.6v2.6h-2.6zM752.14 429.40h2.6v2.6h-2.6zM757.58 429.40h2.6v2.6h-2.6zM763.01 429.40h2.6v2.6h-2.6zM768.44 429.40h2.6v2.6h-2.6zM773.88 429.40h2.6v2.6h-2.6zM779.31 429.40h2.6v2.6h-2.6zM784.75 429.40h2.6v2.6h-2.6zM790.18 429.40h2.6v2.6h-2.6zM795.61 429.40h2.6v2.6h-2.6zM801.05 429.40h2.6v2.6h-2.6zM806.48 429.40h2.6v2.6h-2.6zM811.92 429.40h2.6v2.6h-2.6zM817.35 429.40h2.6v2.6h-2.6zM822.78 429.40h2.6v2.6h-2.6zM828.22 429.40h2.6v2.6h-2.6zM833.65 429.40h2.6v2.6h-2.6zM839.09 429.40h2.6v2.6h-2.6zM844.52 429.40h2.6v2.6h-2.6zM849.95 429.40h2.6v2.6h-2.6zM855.39 429.40h2.6v2.6h-2.6zM860.82 429.40h2.6v2.6h-2.6zM866.26 429.40h2.6v2.6h-2.6zM871.69 429.40h2.6v2.6h-2.6zM877.12 429.40h2.6v2.6h-2.6zM882.56 429.40h2.6v2.6h-2.6zM887.99 429.40h2.6v2.6h-2.6zM893.42 429.40h2.6v2.6h-2.6zM898.86 429.40h2.6v2.6h-2.6zM904.29 429.40h2.6v2.6h-2.6zM909.73 429.40h2.6v2.6h-2.6zM915.16 429.40h2.6v2.6h-2.6zM920.59 429.40h2.6v2.6h-2.6zM926.03 429.40h2.6v2.6h-2.6zM931.46 429.40h2.6v2.6h-2.6zM936.90 429.40h2.6v2.6h-2.6zM942.33 429.40h2.6v2.6h-2.6zM947.76 429.40h2.6v2.6h-2.6zM953.20 429.40h2.6v2.6h-2.6zM958.63 429.40h2.6v2.6h-2.6zM964.07 429.40h2.6v2.6h-2.6zM969.50 429.40h2.6v2.6h-2.6z"/>
<text x="566.01" y="462.00" font-size="24.0" textLength="428.41" lengthAdjust="spacingAndGlyphs" xml:space="preserve">Dérivation de l'assistance au freinage en</text>
<text x="1001.09" y="484.00" font-size="24.0" textLength="14.55" lengthAdjust="spacingAndGlyphs" xml:space="preserve">6</text>
<text x="986.39" y="484.00" font-size="24.0" textLength="14.55" lengthAdjust="spacingAndGlyphs" xml:space="preserve">6</text>
<text x="973.01" y="484.00" font-size="24.0" textLength="13.23" lengthAdjust="spacingAndGlyphs" xml:space="preserve">2</text>
<text x="588.89" y="484.00" font-size="24.0" textLength="157.38" lengthAdjust="spacingAndGlyphs" xml:space="preserve">marche arrière</text>
<path d="M755.30 481.40h2.6v2.6h-2.6zM760.65 481.40h2.6v2.6h-2.6zM766.01 481.40h2.6v2.6h-2.6zM771.37 481.40h2.6v2.6h-2.6zM776.72 481.40h2.6v2.6h-2.6zM782.07 481.40h2.6v2.6h-2.6zM787.43 481.40h2.6v2.6h-2.6zM792.78 481.40h2.6v2.6h-2.6zM798.14 481.40h2.6v2.6h-2.6zM803.49 481.40h2.6v2.6h-2.6zM808.85 481.40h2.6v2.6h-2.6zM814.20 481.40h2.6v2.6h-2.6zM819.56 481.40h2.6v2.6h-2.6zM824.91 481.40h2.6v2.6h-2.6zM830.27 481.40h2.6v2.6h-2.6zM835.62 481.40h2.6v2.6h-2.6zM840.98 481.40h2.6v2.6h-2.6zM846.33 481.40h2.6v2.6h-2.6zM851.69 481.40h2.6v2.6h-2.6zM857.04 481.40h2.6v2.6h-2.6zM862.40 481.40h2.6v2.6h-2.6zM867.75 481.40h2.6v2.6h-2.6zM873.11 481.40h2.6v2.6h-2.6zM878.46 481.40h2.6v2.6h-2.6zM883.82 481.40h2.6v2.6h-2.6zM889.17 481.40h2.6v2.6h-2.6zM894.53 481.40h2.6v2.6h-2.6zM899.88 481.40h2.6v2.6h-2.6zM905.24 481.40h2.6v2.6h-2.6zM910.59 481.40h2.6v2.6h-2.6zM915.95 481.40h2.6v2.6h-2.6zM921.30 481.40h2.6v2.6h-2.6zM926.66 481.40h2.6v2.6h-2.6zM932.01 481.40h2.6v2.6h-2.6zM937.37 481.40h2.6v2.6h-2.6zM942.72 481.40h2.6v2.6h-2.6zM948.08 481.40h2.6v2.6h-2.6zM953.43 481.40h2.6v2.6h-2.6zM958.79 481.40h2.6v2.6h-2.6zM964.14 481.40h2.6v2.6h-2.6zM969.50 481.40h2.6v2.6h-2.6z"/>
<text x="567.50" y="514.00" font-size="24.0" textLength="390.56" lengthAdjust="spacingAndGlyphs" xml:space="preserve">Témoins d'assistance au freinage en</text>
<text x="1002.85" y="536.00" font-size="24.0" textLength="12.74" lengthAdjust="spacingAndGlyphs" xml:space="preserve">7</text>
<text x="987.99" y="536.00" font-size="24.0" textLength="14.55" lengthAdjust="spacingAndGlyphs" xml:space="preserve">6</text>
<text x="974.61" y="536.00" font-size="24.0" textLength="13.23" lengthAdjust="spacingAndGlyphs" xml:space="preserve">2</text>
<text x="588.89" y="536.00" font-size="24.0" textLength="157.38" lengthAdjust="spacingAndGlyphs" xml:space="preserve">marche arrière</text>
<path d="M754.00 533.40h2.6v2.6h-2.6zM759.43 533.40h2.6v2.6h-2.6zM764.86 533.40h2.6v2.6h-2.6zM770.28 533.40h2.6v2.6h-2.6zM775.71 533.40h2.6v2.6h-2.6zM781.14 533.40h2.6v2.6h-2.6zM786.56 533.40h2.6v2.6h-2.6zM791.99 533.40h2.6v2.6h-2.6zM797.42 533.40h2.6v2.6h-2.6zM802.85 533.40h2.6v2.6h-2.6zM808.27 533.40h2.6v2.6h-2.6zM813.70 533.40h2.6v2.6h-2.6zM819.13 533.40h2.6v2.6h-2.6zM824.56 533.40h2.6v2.6h-2.6zM829.99 533.40h2.6v2.6h-2.6zM835.41 533.40h2.6v2.6h-2.6zM840.84 533.40h2.6v2.6h-2.6zM846.27 533.40h2.6v2.6h-2.6zM851.69 533.40h2.6v2.6h-2.6zM857.12 533.40h2.6v2.6h-2.6zM862.55 533.40h2.6v2.6h-2.6zM867.98 533.40h2.6v2.6h-2.6zM873.40 533.40h2.6v2.6h-2.6zM878.83 533.40h2.6v2.6h-2.6zM884.26 533.40h2.6v2.6h-2.6zM889.69 533.40h2.6v2.6h-2.6zM895.12 533.40h2.6v2.6h-2.6zM900.54 533.40h2.6v2.6h-2.6zM905.97 533.40h2.6v2.6h-2.6zM911.40 533.40h2.6v2.6h-2.6zM916.82 533.40h2.6v2.6h-2.6zM922.25 533.40h2.6v2.6h-2.6zM927.68 533.40h2.6v2.6h-2.6zM933.11 533.40h2.6v2.6h-2.6zM938.53 533.40h2.6v2.6h-2.6zM943.96 533.40h2.6v2.6h-2.6zM949.39 533.40h2.6v2.6h-2.6zM954.82 533.40h2.6v2.6h-2.6zM960.24 533.40h2.6v2.6h-2.6zM965.67 533.40h2.6v2.6h-2.6zM971.10 533.40h2.6v2.6h-2.6z"/>
<text x="567.90" y="566.00" font-size="24.0" textLength="424.88" lengthAdjust="spacingAndGlyphs" xml:space="preserve">Assistance au freinage en marche arrière</text>
<text x="1002.85" y="587.80" font-size="24.0" textLength="12.74" lengthAdjust="spacingAndGlyphs" xml:space="preserve">7</text>
<text x="987.99" y="587.80" font-size="24.0" textLength="14.55" lengthAdjust="spacingAndGlyphs" xml:space="preserve">6</text>
<text x="974.61" y="587.80" font-size="24.0" textLength="13.23" lengthAdjust="spacingAndGlyphs" xml:space="preserve">2</text>
<text x="590.50" y="587.80" font-size="24.0" textLength="144.94" lengthAdjust="spacingAndGlyphs" xml:space="preserve">– Dépannage</text>
<path d="M742.70 585.20h2.6v2.6h-2.6zM748.14 585.20h2.6v2.6h-2.6zM753.58 585.20h2.6v2.6h-2.6zM759.01 585.20h2.6v2.6h-2.6zM764.45 585.20h2.6v2.6h-2.6zM769.89 585.20h2.6v2.6h-2.6zM775.33 585.20h2.6v2.6h-2.6zM780.77 585.20h2.6v2.6h-2.6zM786.20 585.20h2.6v2.6h-2.6zM791.64 585.20h2.6v2.6h-2.6zM797.08 585.20h2.6v2.6h-2.6zM802.52 585.20h2.6v2.6h-2.6zM807.96 585.20h2.6v2.6h-2.6zM813.40 585.20h2.6v2.6h-2.6zM818.83 585.20h2.6v2.6h-2.6zM824.27 585.20h2.6v2.6h-2.6zM829.71 585.20h2.6v2.6h-2.6zM835.15 585.20h2.6v2.6h-2.6zM840.59 585.20h2.6v2.6h-2.6zM846.02 585.20h2.6v2.6h-2.6zM851.46 585.20h2.6v2.6h-2.6zM856.90 585.20h2.6v2.6h-2.6zM862.34 585.20h2.6v2.6h-2.6zM867.78 585.20h2.6v2.6h-2.6zM873.21 585.20h2.6v2.6h-2.6zM878.65 585.20h2.6v2.6h-2.6zM884.09 585.20h2.6v2.6h-2.6zM889.53 585.20h2.6v2.6h-2.6zM894.97 585.20h2.6v2.6h-2.6zM900.40 585.20h2.6v2.6h-2.6zM905.84 585.20h2.6v2.6h-2.6zM911.28 585.20h2.6v2.6h-2.6zM916.72 585.20h2.6v2.6h-2.6zM922.16 585.20h2.6v2.6h-2.6zM927.60 585.20h2.6v2.6h-2.6zM933.03 585.20h2.6v2.6h-2.6zM938.47 585.20h2.6v2.6h-2.6zM943.91 585.20h2.6v2.6h-2.6zM949.35 585.20h2.6v2.6h-2.6zM954.79 585.20h2.6v2.6h-2.6zM960.22 585.20h2.6v2.6h-2.6zM965.66 585.20h2.6v2.6h-2.6zM971.10 585.20h2.6v2.6h-2.6z"/>
<text x="567.82" y="645.00" font-size="27.6" font-weight="bold" style="stroke:#231f20;stroke-width:1.1px;stroke-linejoin:round" textLength="374.12" lengthAdjust="spacingAndGlyphs" xml:space="preserve">Aide au démarrage en côte</text>
<text x="566.88" y="679.00" font-size="24.0" textLength="405.94" lengthAdjust="spacingAndGlyphs" xml:space="preserve">Qu'est-ce que l'aide au démarrage en</text>
<text x="1001.31" y="700.00" font-size="24.0" textLength="14.43" lengthAdjust="spacingAndGlyphs" xml:space="preserve">9</text>
<text x="986.49" y="700.00" font-size="24.0" textLength="14.55" lengthAdjust="spacingAndGlyphs" xml:space="preserve">6</text>
<text x="973.11" y="700.00" font-size="24.0" textLength="13.23" lengthAdjust="spacingAndGlyphs" xml:space="preserve">2</text>
<text x="589.46" y="700.00" font-size="24.0" textLength="47.36" lengthAdjust="spacingAndGlyphs" xml:space="preserve">côte</text>
<path d="M644.40 697.40h2.6v2.6h-2.6zM649.82 697.40h2.6v2.6h-2.6zM655.24 697.40h2.6v2.6h-2.6zM660.66 697.40h2.6v2.6h-2.6zM666.08 697.40h2.6v2.6h-2.6zM671.50 697.40h2.6v2.6h-2.6zM676.92 697.40h2.6v2.6h-2.6zM682.34 697.40h2.6v2.6h-2.6zM687.76 697.40h2.6v2.6h-2.6zM693.18 697.40h2.6v2.6h-2.6zM698.60 697.40h2.6v2.6h-2.6zM704.02 697.40h2.6v2.6h-2.6zM709.44 697.40h2.6v2.6h-2.6zM714.86 697.40h2.6v2.6h-2.6zM720.28 697.40h2.6v2.6h-2.6zM725.70 697.40h2.6v2.6h-2.6zM731.12 697.40h2.6v2.6h-2.6zM736.54 697.40h2.6v2.6h-2.6zM741.96 697.40h2.6v2.6h-2.6zM747.38 697.40h2.6v2.6h-2.6zM752.80 697.40h2.6v2.6h-2.6zM758.22 697.40h2.6v2.6h-2.6zM763.64 697.40h2.6v2.6h-2.6zM769.06 697.40h2.6v2.6h-2.6zM774.48 697.40h2.6v2.6h-2.6zM779.90 697.40h2.6v2.6h-2.6zM785.32 697.40h2.6v2.6h-2.6zM790.74 697.40h2.6v2.6h-2.6zM796.16 697.40h2.6v2.6h-2.6zM801.58 697.40h2.6v2.6h-2.6zM807.00 697.40h2.6v2.6h-2.6zM812.42 697.40h2.6v2.6h-2.6zM817.84 697.40h2.6v2.6h-2.6zM823.26 697.40h2.6v2.6h-2.6zM828.68 697.40h2.6v2.6h-2.6zM834.10 697.40h2.6v2.6h-2.6zM839.52 697.40h2.6v2.6h-2.6zM844.94 697.40h2.6v2.6h-2.6zM850.36 697.40h2.6v2.6h-2.6zM855.78 697.40h2.6v2.6h-2.6zM861.20 697.40h2.6v2.6h-2.6zM866.62 697.40h2.6v2.6h-2.6zM872.04 697.40h2.6v2.6h-2.6zM877.46 697.40h2.6v2.6h-2.6zM882.88 697.40h2.6v2.6h-2.6zM888.30 697.40h2.6v2.6h-2.6zM893.72 697.40h2.6v2.6h-2.6zM899.14 697.40h2.6v2.6h-2.6zM904.56 697.40h2.6v2.6h-2.6zM909.98 697.40h2.6v2.6h-2.6zM915.40 697.40h2.6v2.6h-2.6zM920.82 697.40h2.6v2.6h-2.6zM926.24 697.40h2.6v2.6h-2.6zM931.66 697.40h2.6v2.6h-2.6zM937.08 697.40h2.6v2.6h-2.6zM942.50 697.40h2.6v2.6h-2.6zM947.92 697.40h2.6v2.6h-2.6zM953.34 697.40h2.6v2.6h-2.6zM958.76 697.40h2.6v2.6h-2.6zM964.18 697.40h2.6v2.6h-2.6zM969.60 697.40h2.6v2.6h-2.6z"/>
<text x="566.75" y="730.00" font-size="24.0" textLength="328.79" lengthAdjust="spacingAndGlyphs" xml:space="preserve">Comment fonctionne l'aide au</text>
<text x="1001.31" y="752.00" font-size="24.0" textLength="14.43" lengthAdjust="spacingAndGlyphs" xml:space="preserve">9</text>
<text x="986.49" y="752.00" font-size="24.0" textLength="14.55" lengthAdjust="spacingAndGlyphs" xml:space="preserve">6</text>
<text x="973.11" y="752.00" font-size="24.0" textLength="13.23" lengthAdjust="spacingAndGlyphs" xml:space="preserve">2</text>
<text x="589.48" y="752.00" font-size="24.0" textLength="205.81" lengthAdjust="spacingAndGlyphs" xml:space="preserve">démarrage en côte</text>
<path d="M803.40 749.40h2.6v2.6h-2.6zM808.76 749.40h2.6v2.6h-2.6zM814.12 749.40h2.6v2.6h-2.6zM819.48 749.40h2.6v2.6h-2.6zM824.85 749.40h2.6v2.6h-2.6zM830.21 749.40h2.6v2.6h-2.6zM835.57 749.40h2.6v2.6h-2.6zM840.93 749.40h2.6v2.6h-2.6zM846.29 749.40h2.6v2.6h-2.6zM851.65 749.40h2.6v2.6h-2.6zM857.01 749.40h2.6v2.6h-2.6zM862.37 749.40h2.6v2.6h-2.6zM867.74 749.40h2.6v2.6h-2.6zM873.10 749.40h2.6v2.6h-2.6zM878.46 749.40h2.6v2.6h-2.6zM883.82 749.40h2.6v2.6h-2.6zM889.18 749.40h2.6v2.6h-2.6zM894.54 749.40h2.6v2.6h-2.6zM899.90 749.40h2.6v2.6h-2.6zM905.26 749.40h2.6v2.6h-2.6zM910.63 749.40h2.6v2.6h-2.6zM915.99 749.40h2.6v2.6h-2.6zM921.35 749.40h2.6v2.6h-2.6zM926.71 749.40h2.6v2.6h-2.6zM932.07 749.40h2.6v2.6h-2.6zM937.43 749.40h2.6v2.6h-2.6zM942.79 749.40h2.6v2.6h-2.6zM948.15 749.40h2.6v2.6h-2.6zM953.52 749.40h2.6v2.6h-2.6zM958.88 749.40h2.6v2.6h-2.6zM964.24 749.40h2.6v2.6h-2.6zM969.60 749.40h2.6v2.6h-2.6z"/>
<text x="565.98" y="782.00" font-size="24.0" textLength="341.67" lengthAdjust="spacingAndGlyphs" xml:space="preserve">Précautions relatives à l'aide au</text>
<text x="1001.31" y="804.00" font-size="24.0" textLength="14.43" lengthAdjust="spacingAndGlyphs" xml:space="preserve">9</text>
<text x="986.49" y="804.00" font-size="24.0" textLength="14.55" lengthAdjust="spacingAndGlyphs" xml:space="preserve">6</text>
<text x="973.11" y="804.00" font-size="24.0" textLength="13.23" lengthAdjust="spacingAndGlyphs" xml:space="preserve">2</text>
<text x="589.48" y="804.00" font-size="24.0" textLength="205.81" lengthAdjust="spacingAndGlyphs" xml:space="preserve">démarrage en côte</text>
<path d="M803.40 801.40h2.6v2.6h-2.6zM808.76 801.40h2.6v2.6h-2.6zM814.12 801.40h2.6v2.6h-2.6zM819.48 801.40h2.6v2.6h-2.6zM824.85 801.40h2.6v2.6h-2.6zM830.21 801.40h2.6v2.6h-2.6zM835.57 801.40h2.6v2.6h-2.6zM840.93 801.40h2.6v2.6h-2.6zM846.29 801.40h2.6v2.6h-2.6zM851.65 801.40h2.6v2.6h-2.6zM857.01 801.40h2.6v2.6h-2.6zM862.37 801.40h2.6v2.6h-2.6zM867.74 801.40h2.6v2.6h-2.6zM873.10 801.40h2.6v2.6h-2.6zM878.46 801.40h2.6v2.6h-2.6zM883.82 801.40h2.6v2.6h-2.6zM889.18 801.40h2.6v2.6h-2.6zM894.54 801.40h2.6v2.6h-2.6zM899.90 801.40h2.6v2.6h-2.6zM905.26 801.40h2.6v2.6h-2.6zM910.63 801.40h2.6v2.6h-2.6zM915.99 801.40h2.6v2.6h-2.6zM921.35 801.40h2.6v2.6h-2.6zM926.71 801.40h2.6v2.6h-2.6zM932.07 801.40h2.6v2.6h-2.6zM937.43 801.40h2.6v2.6h-2.6zM942.79 801.40h2.6v2.6h-2.6zM948.15 801.40h2.6v2.6h-2.6zM953.52 801.40h2.6v2.6h-2.6zM958.88 801.40h2.6v2.6h-2.6zM964.24 801.40h2.6v2.6h-2.6zM969.60 801.40h2.6v2.6h-2.6z"/>
<text x="567.90" y="834.00" font-size="24.0" textLength="416.64" lengthAdjust="spacingAndGlyphs" xml:space="preserve">Activation et désactivation de l'aide au</text>
<text x="589.50" y="857.00" font-size="24.0" textLength="403.66" lengthAdjust="spacingAndGlyphs" xml:space="preserve">démarrage en côte - Boîte de vitesses</text>
<text x="1001.31" y="879.00" font-size="24.0" textLength="14.43" lengthAdjust="spacingAndGlyphs" xml:space="preserve">9</text>
<text x="986.49" y="879.00" font-size="24.0" textLength="14.55" lengthAdjust="spacingAndGlyphs" xml:space="preserve">6</text>
<text x="973.11" y="879.00" font-size="24.0" textLength="13.23" lengthAdjust="spacingAndGlyphs" xml:space="preserve">2</text>
<text x="588.83" y="879.00" font-size="24.0" textLength="101.92" lengthAdjust="spacingAndGlyphs" xml:space="preserve">manuelle</text>
<path d="M703.30 876.40h2.6v2.6h-2.6zM708.73 876.40h2.6v2.6h-2.6zM714.17 876.40h2.6v2.6h-2.6zM719.60 876.40h2.6v2.6h-2.6zM725.04 876.40h2.6v2.6h-2.6zM730.47 876.40h2.6v2.6h-2.6zM735.91 876.40h2.6v2.6h-2.6zM741.34 876.40h2.6v2.6h-2.6zM746.78 876.40h2.6v2.6h-2.6zM752.21 876.40h2.6v2.6h-2.6zM757.65 876.40h2.6v2.6h-2.6zM763.08 876.40h2.6v2.6h-2.6zM768.52 876.40h2.6v2.6h-2.6zM773.95 876.40h2.6v2.6h-2.6zM779.39 876.40h2.6v2.6h-2.6zM784.82 876.40h2.6v2.6h-2.6zM790.26 876.40h2.6v2.6h-2.6zM795.69 876.40h2.6v2.6h-2.6zM801.12 876.40h2.6v2.6h-2.6zM806.56 876.40h2.6v2.6h-2.6zM811.99 876.40h2.6v2.6h-2.6zM817.43 876.40h2.6v2.6h-2.6zM822.86 876.40h2.6v2.6h-2.6zM828.30 876.40h2.6v2.6h-2.6zM833.73 876.40h2.6v2.6h-2.6zM839.17 876.40h2.6v2.6h-2.6zM844.60 876.40h2.6v2.6h-2.6zM850.04 876.40h2.6v2.6h-2.6zM855.47 876.40h2.6v2.6h-2.6zM860.91 876.40h2.6v2.6h-2.6zM866.34 876.40h2.6v2.6h-2.6zM871.78 876.40h2.6v2.6h-2.6zM877.21 876.40h2.6v2.6h-2.6zM882.64 876.40h2.6v2.6h-2.6zM888.08 876.40h2.6v2.6h-2.6zM893.51 876.40h2.6v2.6h-2.6zM898.95 876.40h2.6v2.6h-2.6zM904.38 876.40h2.6v2.6h-2.6zM909.82 876.40h2.6v2.6h-2.6zM915.25 876.40h2.6v2.6h-2.6zM920.69 876.40h2.6v2.6h-2.6zM926.12 876.40h2.6v2.6h-2.6zM931.56 876.40h2.6v2.6h-2.6zM936.99 876.40h2.6v2.6h-2.6zM942.43 876.40h2.6v2.6h-2.6zM947.86 876.40h2.6v2.6h-2.6zM953.30 876.40h2.6v2.6h-2.6zM958.73 876.40h2.6v2.6h-2.6zM964.17 876.40h2.6v2.6h-2.6zM969.60 876.40h2.6v2.6h-2.6z"/>
<text x="567.90" y="909.00" font-size="24.0" textLength="425.41" lengthAdjust="spacingAndGlyphs" xml:space="preserve">Aide au démarrage en côte – Dépannage</text>
<text x="1001.02" y="930.50" font-size="24.0" textLength="14.51" lengthAdjust="spacingAndGlyphs" xml:space="preserve">0</text>
<text x="989.75" y="930.50" font-size="24.0" textLength="12.74" lengthAdjust="spacingAndGlyphs" xml:space="preserve">7</text>
<text x="976.21" y="930.50" font-size="24.0" textLength="13.23" lengthAdjust="spacingAndGlyphs" xml:space="preserve">2</text>
<path d="M591.00 927.90h2.6v2.6h-2.6zM596.38 927.90h2.6v2.6h-2.6zM601.75 927.90h2.6v2.6h-2.6zM607.13 927.90h2.6v2.6h-2.6zM612.50 927.90h2.6v2.6h-2.6zM617.88 927.90h2.6v2.6h-2.6zM623.26 927.90h2.6v2.6h-2.6zM628.63 927.90h2.6v2.6h-2.6zM634.01 927.90h2.6v2.6h-2.6zM639.38 927.90h2.6v2.6h-2.6zM644.76 927.90h2.6v2.6h-2.6zM650.14 927.90h2.6v2.6h-2.6zM655.51 927.90h2.6v2.6h-2.6zM660.89 927.90h2.6v2.6h-2.6zM666.26 927.90h2.6v2.6h-2.6zM671.64 927.90h2.6v2.6h-2.6zM677.02 927.90h2.6v2.6h-2.6zM682.39 927.90h2.6v2.6h-2.6zM687.77 927.90h2.6v2.6h-2.6zM693.15 927.90h2.6v2.6h-2.6zM698.52 927.90h2.6v2.6h-2.6zM703.90 927.90h2.6v2.6h-2.6zM709.27 927.90h2.6v2.6h-2.6zM714.65 927.90h2.6v2.6h-2.6zM720.03 927.90h2.6v2.6h-2.6zM725.40 927.90h2.6v2.6h-2.6zM730.78 927.90h2.6v2.6h-2.6zM736.15 927.90h2.6v2.6h-2.6zM741.53 927.90h2.6v2.6h-2.6zM746.91 927.90h2.6v2.6h-2.6zM752.28 927.90h2.6v2.6h-2.6zM757.66 927.90h2.6v2.6h-2.6zM763.03 927.90h2.6v2.6h-2.6zM768.41 927.90h2.6v2.6h-2.6zM773.79 927.90h2.6v2.6h-2.6zM779.16 927.90h2.6v2.6h-2.6zM784.54 927.90h2.6v2.6h-2.6zM789.91 927.90h2.6v2.6h-2.6zM795.29 927.90h2.6v2.6h-2.6zM800.67 927.90h2.6v2.6h-2.6zM806.04 927.90h2.6v2.6h-2.6zM811.42 927.90h2.6v2.6h-2.6zM816.79 927.90h2.6v2.6h-2.6zM822.17 927.90h2.6v2.6h-2.6zM827.55 927.90h2.6v2.6h-2.6zM832.92 927.90h2.6v2.6h-2.6zM838.30 927.90h2.6v2.6h-2.6zM843.67 927.90h2.6v2.6h-2.6zM849.05 927.90h2.6v2.6h-2.6zM854.43 927.90h2.6v2.6h-2.6zM859.80 927.90h2.6v2.6h-2.6zM865.18 927.90h2.6v2.6h-2.6zM870.55 927.90h2.6v2.6h-2.6zM875.93 927.90h2.6v2.6h-2.6zM881.31 927.90h2.6v2.6h-2.6zM886.68 927.90h2.6v2.6h-2.6zM892.06 927.90h2.6v2.6h-2.6zM897.44 927.90h2.6v2.6h-2.6zM902.81 927.90h2.6v2.6h-2.6zM908.19 927.90h2.6v2.6h-2.6zM913.56 927.90h2.6v2.6h-2.6zM918.94 927.90h2.6v2.6h-2.6zM924.32 927.90h2.6v2.6h-2.6zM929.69 927.90h2.6v2.6h-2.6zM935.07 927.90h2.6v2.6h-2.6zM940.44 927.90h2.6v2.6h-2.6zM945.82 927.90h2.6v2.6h-2.6zM951.20 927.90h2.6v2.6h-2.6zM956.57 927.90h2.6v2.6h-2.6zM961.95 927.90h2.6v2.6h-2.6zM967.32 927.90h2.6v2.6h-2.6zM972.70 927.90h2.6v2.6h-2.6z"/>
<text x="566.48" y="987.40" font-size="27.6" font-weight="bold" style="stroke:#231f20;stroke-width:1.1px;stroke-linejoin:round" textLength="319.63" lengthAdjust="spacingAndGlyphs" xml:space="preserve">Maintien automatique</text>
<text x="566.75" y="1020.00" font-size="24.0" textLength="358.21" lengthAdjust="spacingAndGlyphs" xml:space="preserve">Comment fonctionne le maintien</text>
<path d="M1011.50 1026.20h2.1v16.8h-2.1z M1011.70 1026.20L1008.60 1028.20L1008.60 1030.10L1011.70 1028.10z"/>
<text x="996.05" y="1043.00" font-size="24.0" textLength="12.74" lengthAdjust="spacingAndGlyphs" xml:space="preserve">7</text>
<text x="982.51" y="1043.00" font-size="24.0" textLength="13.23" lengthAdjust="spacingAndGlyphs" xml:space="preserve">2</text>
<text x="589.44" y="1043.00" font-size="24.0" textLength="140.22" lengthAdjust="spacingAndGlyphs" xml:space="preserve">automatique</text>
<path d="M739.60 1040.40h2.6v2.6h-2.6zM745.04 1040.40h2.6v2.6h-2.6zM750.48 1040.40h2.6v2.6h-2.6zM755.92 1040.40h2.6v2.6h-2.6zM761.36 1040.40h2.6v2.6h-2.6zM766.80 1040.40h2.6v2.6h-2.6zM772.25 1040.40h2.6v2.6h-2.6zM777.69 1040.40h2.6v2.6h-2.6zM783.13 1040.40h2.6v2.6h-2.6zM788.57 1040.40h2.6v2.6h-2.6zM794.01 1040.40h2.6v2.6h-2.6zM799.45 1040.40h2.6v2.6h-2.6zM804.89 1040.40h2.6v2.6h-2.6zM810.33 1040.40h2.6v2.6h-2.6zM815.77 1040.40h2.6v2.6h-2.6zM821.21 1040.40h2.6v2.6h-2.6zM826.65 1040.40h2.6v2.6h-2.6zM832.10 1040.40h2.6v2.6h-2.6zM837.54 1040.40h2.6v2.6h-2.6zM842.98 1040.40h2.6v2.6h-2.6zM848.42 1040.40h2.6v2.6h-2.6zM853.86 1040.40h2.6v2.6h-2.6zM859.30 1040.40h2.6v2.6h-2.6zM864.74 1040.40h2.6v2.6h-2.6zM870.18 1040.40h2.6v2.6h-2.6zM875.62 1040.40h2.6v2.6h-2.6zM881.06 1040.40h2.6v2.6h-2.6zM886.50 1040.40h2.6v2.6h-2.6zM891.95 1040.40h2.6v2.6h-2.6zM897.39 1040.40h2.6v2.6h-2.6zM902.83 1040.40h2.6v2.6h-2.6zM908.27 1040.40h2.6v2.6h-2.6zM913.71 1040.40h2.6v2.6h-2.6zM919.15 1040.40h2.6v2.6h-2.6zM924.59 1040.40h2.6v2.6h-2.6zM930.03 1040.40h2.6v2.6h-2.6zM935.47 1040.40h2.6v2.6h-2.6zM940.91 1040.40h2.6v2.6h-2.6zM946.35 1040.40h2.6v2.6h-2.6zM951.80 1040.40h2.6v2.6h-2.6zM957.24 1040.40h2.6v2.6h-2.6zM962.68 1040.40h2.6v2.6h-2.6zM968.12 1040.40h2.6v2.6h-2.6zM973.56 1040.40h2.6v2.6h-2.6zM979.00 1040.40h2.6v2.6h-2.6z"/>
<text x="567.90" y="1071.90" font-size="24.0" textLength="421.71" lengthAdjust="spacingAndGlyphs" xml:space="preserve">Activation et désactivation du maintien</text>
<path d="M1011.50 1078.20h2.1v16.8h-2.1z M1011.70 1078.20L1008.60 1080.20L1008.60 1082.10L1011.70 1080.10z"/>
<text x="996.05" y="1095.00" font-size="24.0" textLength="12.74" lengthAdjust="spacingAndGlyphs" xml:space="preserve">7</text>
<text x="982.51" y="1095.00" font-size="24.0" textLength="13.23" lengthAdjust="spacingAndGlyphs" xml:space="preserve">2</text>
<text x="589.44" y="1095.00" font-size="24.0" textLength="140.22" lengthAdjust="spacingAndGlyphs" xml:space="preserve">automatique</text>
<path d="M739.60 1092.40h2.6v2.6h-2.6zM745.04 1092.40h2.6v2.6h-2.6zM750.48 1092.40h2.6v2.6h-2.6zM755.92 1092.40h2.6v2.6h-2.6zM761.36 1092.40h2.6v2.6h-2.6zM766.80 1092.40h2.6v2.6h-2.6zM772.25 1092.40h2.6v2.6h-2.6zM777.69 1092.40h2.6v2.6h-2.6zM783.13 1092.40h2.6v2.6h-2.6zM788.57 1092.40h2.6v2.6h-2.6zM794.01 1092.40h2.6v2.6h-2.6zM799.45 1092.40h2.6v2.6h-2.6zM804.89 1092.40h2.6v2.6h-2.6zM810.33 1092.40h2.6v2.6h-2.6zM815.77 1092.40h2.6v2.6h-2.6zM821.21 1092.40h2.6v2.6h-2.6zM826.65 1092.40h2.6v2.6h-2.6zM832.10 1092.40h2.6v2.6h-2.6zM837.54 1092.40h2.6v2.6h-2.6zM842.98 1092.40h2.6v2.6h-2.6zM848.42 1092.40h2.6v2.6h-2.6zM853.86 1092.40h2.6v2.6h-2.6zM859.30 1092.40h2.6v2.6h-2.6zM864.74 1092.40h2.6v2.6h-2.6zM870.18 1092.40h2.6v2.6h-2.6zM875.62 1092.40h2.6v2.6h-2.6zM881.06 1092.40h2.6v2.6h-2.6zM886.50 1092.40h2.6v2.6h-2.6zM891.95 1092.40h2.6v2.6h-2.6zM897.39 1092.40h2.6v2.6h-2.6zM902.83 1092.40h2.6v2.6h-2.6zM908.27 1092.40h2.6v2.6h-2.6zM913.71 1092.40h2.6v2.6h-2.6zM919.15 1092.40h2.6v2.6h-2.6zM924.59 1092.40h2.6v2.6h-2.6zM930.03 1092.40h2.6v2.6h-2.6zM935.47 1092.40h2.6v2.6h-2.6zM940.91 1092.40h2.6v2.6h-2.6zM946.35 1092.40h2.6v2.6h-2.6zM951.80 1092.40h2.6v2.6h-2.6zM957.24 1092.40h2.6v2.6h-2.6zM962.68 1092.40h2.6v2.6h-2.6zM968.12 1092.40h2.6v2.6h-2.6zM973.56 1092.40h2.6v2.6h-2.6zM979.00 1092.40h2.6v2.6h-2.6z"/>
<text x="566.11" y="1124.70" font-size="24.0" textLength="391.51" lengthAdjust="spacingAndGlyphs" xml:space="preserve">Utilisation du maintien automatique</text>
<path d="M1011.50 1129.70h2.1v16.8h-2.1z M1011.70 1129.70L1008.60 1131.70L1008.60 1133.60L1011.70 1131.60z"/>
<text x="996.05" y="1146.50" font-size="24.0" textLength="12.74" lengthAdjust="spacingAndGlyphs" xml:space="preserve">7</text>
<text x="982.51" y="1146.50" font-size="24.0" textLength="13.23" lengthAdjust="spacingAndGlyphs" xml:space="preserve">2</text>
<path d="M591.00 1143.90h2.6v2.6h-2.6zM596.39 1143.90h2.6v2.6h-2.6zM601.78 1143.90h2.6v2.6h-2.6zM607.17 1143.90h2.6v2.6h-2.6zM612.56 1143.90h2.6v2.6h-2.6zM617.94 1143.90h2.6v2.6h-2.6zM623.33 1143.90h2.6v2.6h-2.6zM628.72 1143.90h2.6v2.6h-2.6zM634.11 1143.90h2.6v2.6h-2.6zM639.50 1143.90h2.6v2.6h-2.6zM644.89 1143.90h2.6v2.6h-2.6zM650.28 1143.90h2.6v2.6h-2.6zM655.67 1143.90h2.6v2.6h-2.6zM661.06 1143.90h2.6v2.6h-2.6zM666.44 1143.90h2.6v2.6h-2.6zM671.83 1143.90h2.6v2.6h-2.6zM677.22 1143.90h2.6v2.6h-2.6zM682.61 1143.90h2.6v2.6h-2.6zM688.00 1143.90h2.6v2.6h-2.6zM693.39 1143.90h2.6v2.6h-2.6zM698.78 1143.90h2.6v2.6h-2.6zM704.17 1143.90h2.6v2.6h-2.6zM709.56 1143.90h2.6v2.6h-2.6zM714.94 1143.90h2.6v2.6h-2.6zM720.33 1143.90h2.6v2.6h-2.6zM725.72 1143.90h2.6v2.6h-2.6zM731.11 1143.90h2.6v2.6h-2.6zM736.50 1143.90h2.6v2.6h-2.6zM741.89 1143.90h2.6v2.6h-2.6zM747.28 1143.90h2.6v2.6h-2.6zM752.67 1143.90h2.6v2.6h-2.6zM758.06 1143.90h2.6v2.6h-2.6zM763.44 1143.90h2.6v2.6h-2.6zM768.83 1143.90h2.6v2.6h-2.6zM774.22 1143.90h2.6v2.6h-2.6zM779.61 1143.90h2.6v2.6h-2.6zM785.00 1143.90h2.6v2.6h-2.6zM790.39 1143.90h2.6v2.6h-2.6zM795.78 1143.90h2.6v2.6h-2.6zM801.17 1143.90h2.6v2.6h-2.6zM806.56 1143.90h2.6v2.6h-2.6zM811.94 1143.90h2.6v2.6h-2.6zM817.33 1143.90h2.6v2.6h-2.6zM822.72 1143.90h2.6v2.6h-2.6zM828.11 1143.90h2.6v2.6h-2.6zM833.50 1143.90h2.6v2.6h-2.6zM838.89 1143.90h2.6v2.6h-2.6zM844.28 1143.90h2.6v2.6h-2.6zM849.67 1143.90h2.6v2.6h-2.6zM855.06 1143.90h2.6v2.6h-2.6zM860.44 1143.90h2.6v2.6h-2.6zM865.83 1143.90h2.6v2.6h-2.6zM871.22 1143.90h2.6v2.6h-2.6zM876.61 1143.90h2.6v2.6h-2.6zM882.00 1143.90h2.6v2.6h-2.6zM887.39 1143.90h2.6v2.6h-2.6zM892.78 1143.90h2.6v2.6h-2.6zM898.17 1143.90h2.6v2.6h-2.6zM903.56 1143.90h2.6v2.6h-2.6zM908.94 1143.90h2.6v2.6h-2.6zM914.33 1143.90h2.6v2.6h-2.6zM919.72 1143.90h2.6v2.6h-2.6zM925.11 1143.90h2.6v2.6h-2.6zM930.50 1143.90h2.6v2.6h-2.6zM935.89 1143.90h2.6v2.6h-2.6zM941.28 1143.90h2.6v2.6h-2.6zM946.67 1143.90h2.6v2.6h-2.6zM952.06 1143.90h2.6v2.6h-2.6zM957.44 1143.90h2.6v2.6h-2.6zM962.83 1143.90h2.6v2.6h-2.6zM968.22 1143.90h2.6v2.6h-2.6zM973.61 1143.90h2.6v2.6h-2.6zM979.00 1143.90h2.6v2.6h-2.6z"/>
<text x="1002.41" y="1176.50" font-size="24.0" textLength="13.23" lengthAdjust="spacingAndGlyphs" xml:space="preserve">2</text>
<text x="991.35" y="1176.50" font-size="24.0" textLength="12.74" lengthAdjust="spacingAndGlyphs" xml:space="preserve">7</text>
<text x="977.81" y="1176.50" font-size="24.0" textLength="13.23" lengthAdjust="spacingAndGlyphs" xml:space="preserve">2</text>
<text x="567.49" y="1176.50" font-size="24.0" textLength="372.40" lengthAdjust="spacingAndGlyphs" xml:space="preserve">Témoins de maintien automatique</text>
<path d="M947.00 1173.90h2.6v2.6h-2.6zM952.46 1173.90h2.6v2.6h-2.6zM957.92 1173.90h2.6v2.6h-2.6zM963.38 1173.90h2.6v2.6h-2.6zM968.84 1173.90h2.6v2.6h-2.6zM974.30 1173.90h2.6v2.6h-2.6z"/>
<text x="567.66" y="1233.40" font-size="27.6" font-weight="bold" style="stroke:#231f20;stroke-width:1.1px;stroke-linejoin:round" textLength="323.78" lengthAdjust="spacingAndGlyphs" xml:space="preserve">Système anti-patinage</text>
<text x="566.87" y="1265.40" font-size="24.0" textLength="426.15" lengthAdjust="spacingAndGlyphs" xml:space="preserve">Qu'est-ce que le système anti-patinage</text>
<text x="1002.63" y="1288.80" font-size="24.0" textLength="12.88" lengthAdjust="spacingAndGlyphs" xml:space="preserve">3</text>
<text x="991.25" y="1288.80" font-size="24.0" textLength="12.74" lengthAdjust="spacingAndGlyphs" xml:space="preserve">7</text>
<text x="977.71" y="1288.80" font-size="24.0" textLength="13.23" lengthAdjust="spacingAndGlyphs" xml:space="preserve">2</text>
<path d="M591.00 1286.20h2.6v2.6h-2.6zM596.40 1286.20h2.6v2.6h-2.6zM601.79 1286.20h2.6v2.6h-2.6zM607.19 1286.20h2.6v2.6h-2.6zM612.59 1286.20h2.6v2.6h-2.6zM617.99 1286.20h2.6v2.6h-2.6zM623.38 1286.20h2.6v2.6h-2.6zM628.78 1286.20h2.6v2.6h-2.6zM634.18 1286.20h2.6v2.6h-2.6zM639.57 1286.20h2.6v2.6h-2.6zM644.97 1286.20h2.6v2.6h-2.6zM650.37 1286.20h2.6v2.6h-2.6zM655.77 1286.20h2.6v2.6h-2.6zM661.16 1286.20h2.6v2.6h-2.6zM666.56 1286.20h2.6v2.6h-2.6zM671.96 1286.20h2.6v2.6h-2.6zM677.35 1286.20h2.6v2.6h-2.6zM682.75 1286.20h2.6v2.6h-2.6zM688.15 1286.20h2.6v2.6h-2.6zM693.55 1286.20h2.6v2.6h-2.6zM698.94 1286.20h2.6v2.6h-2.6zM704.34 1286.20h2.6v2.6h-2.6zM709.74 1286.20h2.6v2.6h-2.6zM715.14 1286.20h2.6v2.6h-2.6zM720.53 1286.20h2.6v2.6h-2.6zM725.93 1286.20h2.6v2.6h-2.6zM731.33 1286.20h2.6v2.6h-2.6zM736.72 1286.20h2.6v2.6h-2.6zM742.12 1286.20h2.6v2.6h-2.6zM747.52 1286.20h2.6v2.6h-2.6zM752.92 1286.20h2.6v2.6h-2.6zM758.31 1286.20h2.6v2.6h-2.6zM763.71 1286.20h2.6v2.6h-2.6zM769.11 1286.20h2.6v2.6h-2.6zM774.50 1286.20h2.6v2.6h-2.6zM779.90 1286.20h2.6v2.6h-2.6zM785.30 1286.20h2.6v2.6h-2.6zM790.70 1286.20h2.6v2.6h-2.6zM796.09 1286.20h2.6v2.6h-2.6zM801.49 1286.20h2.6v2.6h-2.6zM806.89 1286.20h2.6v2.6h-2.6zM812.28 1286.20h2.6v2.6h-2.6zM817.68 1286.20h2.6v2.6h-2.6zM823.08 1286.20h2.6v2.6h-2.6zM828.48 1286.20h2.6v2.6h-2.6zM833.87 1286.20h2.6v2.6h-2.6zM839.27 1286.20h2.6v2.6h-2.6zM844.67 1286.20h2.6v2.6h-2.6zM850.06 1286.20h2.6v2.6h-2.6zM855.46 1286.20h2.6v2.6h-2.6zM860.86 1286.20h2.6v2.6h-2.6zM866.26 1286.20h2.6v2.6h-2.6zM871.65 1286.20h2.6v2.6h-2.6zM877.05 1286.20h2.6v2.6h-2.6zM882.45 1286.20h2.6v2.6h-2.6zM887.85 1286.20h2.6v2.6h-2.6zM893.24 1286.20h2.6v2.6h-2.6zM898.64 1286.20h2.6v2.6h-2.6zM904.04 1286.20h2.6v2.6h-2.6zM909.43 1286.20h2.6v2.6h-2.6zM914.83 1286.20h2.6v2.6h-2.6zM920.23 1286.20h2.6v2.6h-2.6zM925.63 1286.20h2.6v2.6h-2.6zM931.02 1286.20h2.6v2.6h-2.6zM936.42 1286.20h2.6v2.6h-2.6zM941.82 1286.20h2.6v2.6h-2.6zM947.21 1286.20h2.6v2.6h-2.6zM952.61 1286.20h2.6v2.6h-2.6zM958.01 1286.20h2.6v2.6h-2.6zM963.41 1286.20h2.6v2.6h-2.6zM968.80 1286.20h2.6v2.6h-2.6zM974.20 1286.20h2.6v2.6h-2.6z"/>
</g>
<text x="535.77" y="1397.00" font-size="24.0" textLength="14.91" lengthAdjust="spacingAndGlyphs" xml:space="preserve">9</text>
</svg>
</body></html>
